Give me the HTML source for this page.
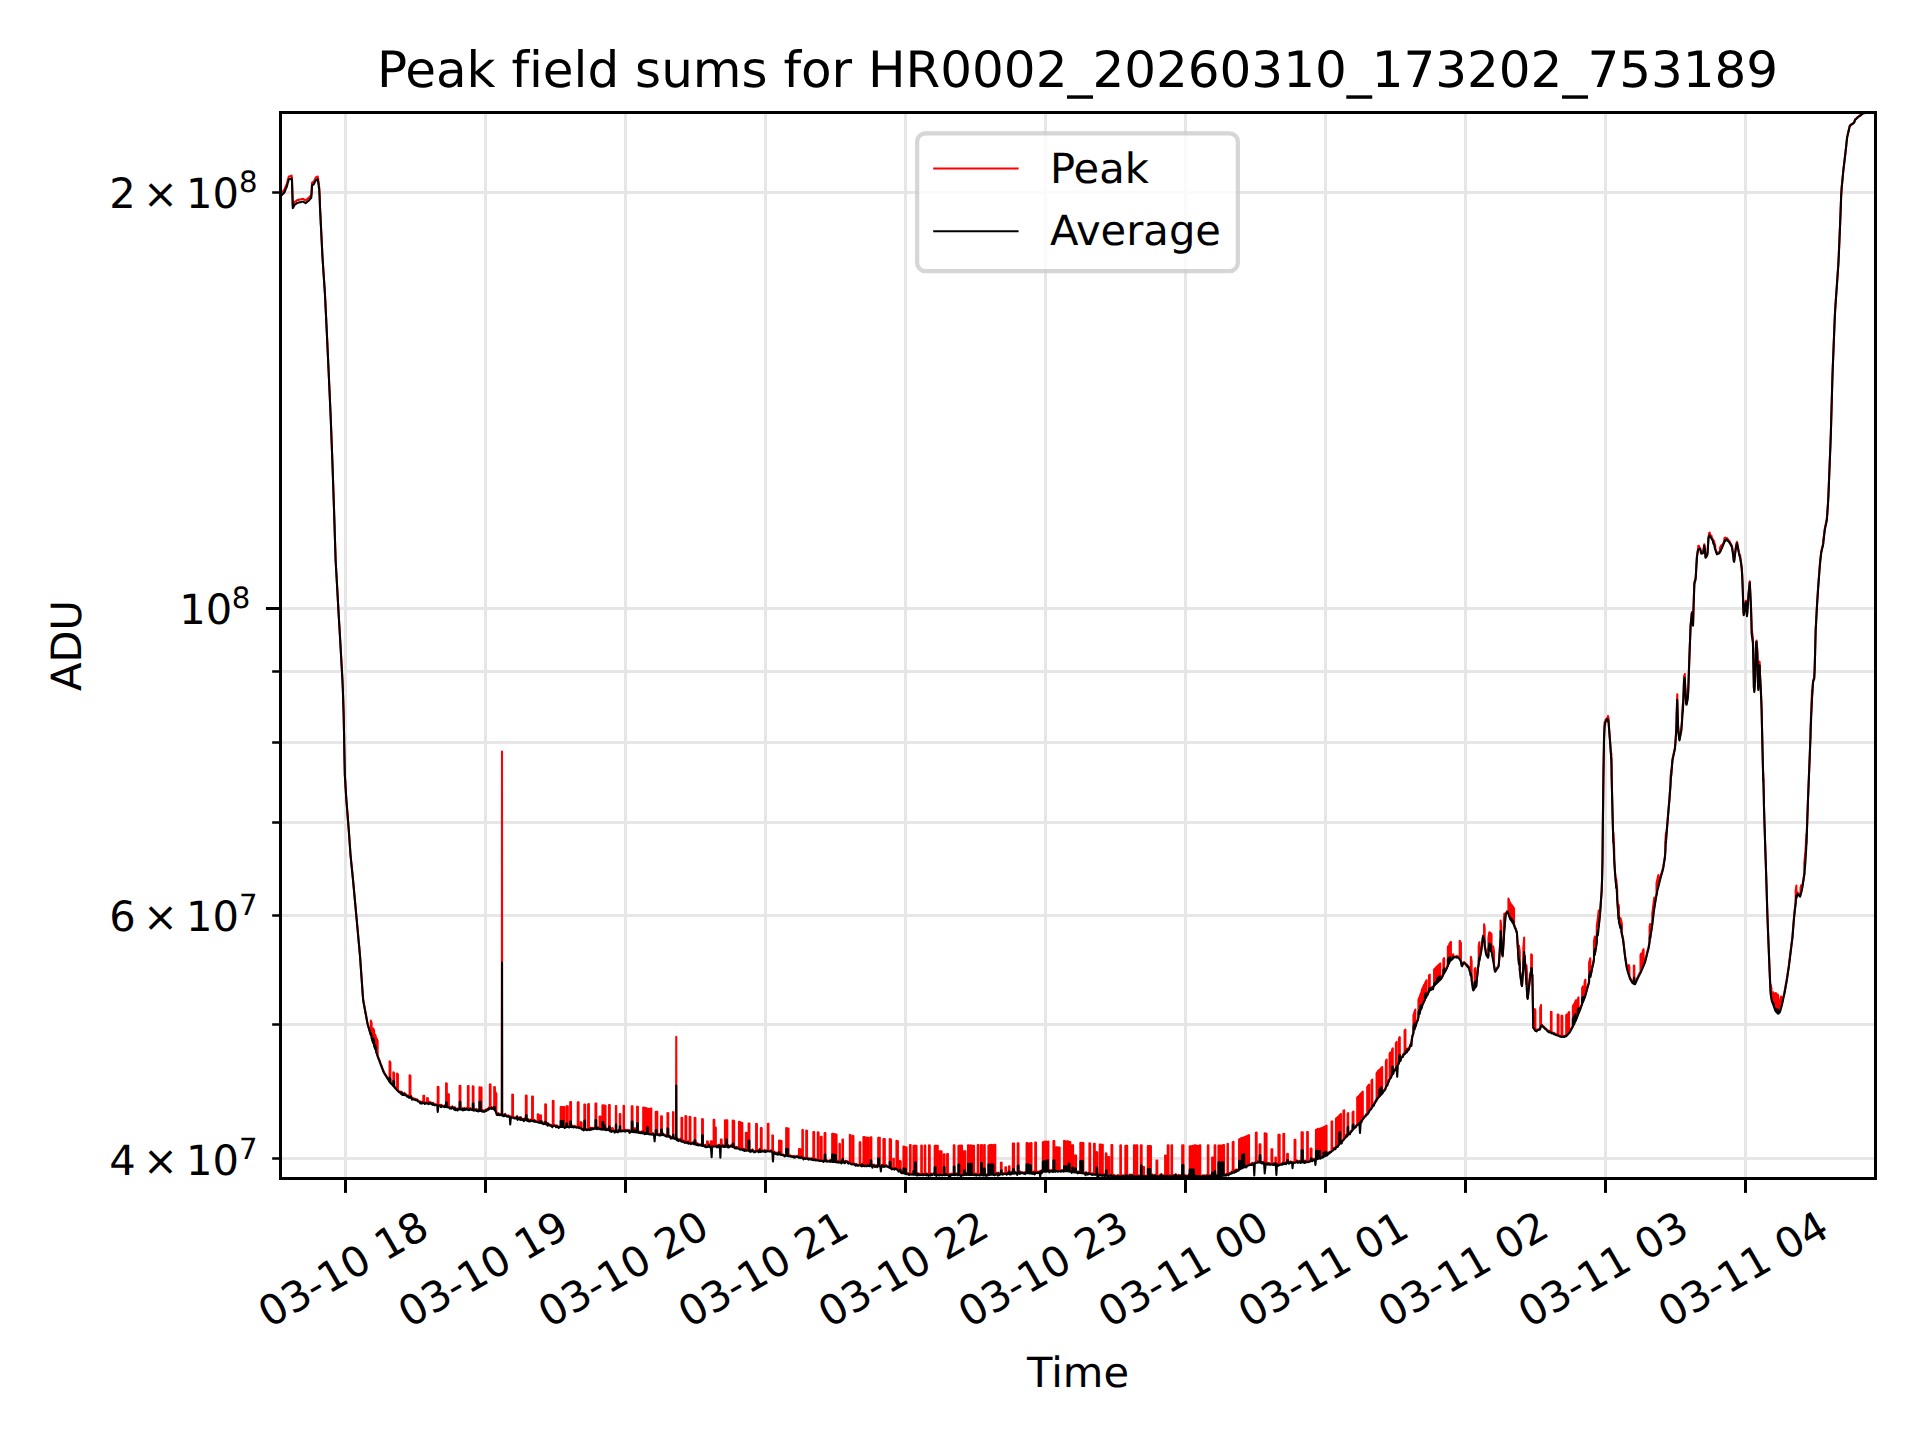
<!DOCTYPE html>
<html lang="en">
<head>
<meta charset="utf-8">
<title>Peak field sums for HR0002_20260310_173202_753189</title>
<style>
html,body{margin:0;padding:0;background:#ffffff;}
body{width:1920px;height:1440px;overflow:hidden;font-family:"DejaVu Sans","Liberation Sans",sans-serif;}
#chart{display:block;position:absolute;left:0;top:0;}
#chart text{white-space:pre;text-rendering:geometricPrecision;font-variant-ligatures:none;font-feature-settings:"liga" 0,"clig" 0;font-kerning:auto;}
</style>
</head>
<body>
<svg id="chart" width="1920" height="1440" viewBox="0 0 1920 1440" role="img" aria-label="Peak field sums chart">
<defs><clipPath id="axclip"><rect x="280.5" y="112.5" width="1595" height="1065.8"/></clipPath></defs>
<rect x="0" y="0" width="1920" height="1440" fill="#ffffff"/>
<g class="grid" clip-path="url(#axclip)" fill="none" stroke="#e6e6e6" stroke-width="3">
<path d="M345.5 1178.3 V112.5"/>
<path d="M485.5 1178.3 V112.5"/>
<path d="M625.5 1178.3 V112.5"/>
<path d="M765.5 1178.3 V112.5"/>
<path d="M905.5 1178.3 V112.5"/>
<path d="M1045.5 1178.3 V112.5"/>
<path d="M1185.5 1178.3 V112.5"/>
<path d="M1325.5 1178.3 V112.5"/>
<path d="M1465.5 1178.3 V112.5"/>
<path d="M1605.5 1178.3 V112.5"/>
<path d="M1745.5 1178.3 V112.5"/>
<path d="M280.5 1158.5 H1875.5"/>
<path d="M280.5 1024.5 H1875.5"/>
<path d="M280.5 915.5 H1875.5"/>
<path d="M280.5 822.5 H1875.5"/>
<path d="M280.5 742.5 H1875.5"/>
<path d="M280.5 671.5 H1875.5"/>
<path d="M280.5 608.5 H1875.5"/>
<path d="M280.5 192.5 H1875.5"/>
</g>
<g class="ticks" fill="none" stroke="#000000">
<g stroke-width="3">
<path d="M345.5 1178.3 v14.58"/>
<path d="M485.5 1178.3 v14.58"/>
<path d="M625.5 1178.3 v14.58"/>
<path d="M765.5 1178.3 v14.58"/>
<path d="M905.5 1178.3 v14.58"/>
<path d="M1045.5 1178.3 v14.58"/>
<path d="M1185.5 1178.3 v14.58"/>
<path d="M1325.5 1178.3 v14.58"/>
<path d="M1465.5 1178.3 v14.58"/>
<path d="M1605.5 1178.3 v14.58"/>
<path d="M1745.5 1178.3 v14.58"/>
<path d="M280.5 608.5 h-14.58"/>
</g>
<g stroke-width="2.5">
<path d="M280.5 1158.5 h-8.33"/>
<path d="M280.5 1024.5 h-8.33"/>
<path d="M280.5 915.5 h-8.33"/>
<path d="M280.5 822.5 h-8.33"/>
<path d="M280.5 742.5 h-8.33"/>
<path d="M280.5 671.5 h-8.33"/>
<path d="M280.5 192.5 h-8.33"/>
</g></g>
<g class="series" clip-path="url(#axclip)" fill="none" stroke-width="2.08" stroke-linejoin="round" stroke-linecap="square">
<path id="peak" stroke="#ff0000" d="M280.4 193.6L280.8 193.23L281.2 192.8L281.6 192.49L282 192L282.4 191.64L282.8 191.3L283.2 190.88L283.6 190.57L284 190.02L284.4 189.85L284.8 188.68L285.2 187.74L285.6 186.65L286 185.82L286.4 184.88L286.8 183.87L287.2 182.48L287.6 180.8L288 179.36L288.4 177.9L288.8 176.55L289.2 176.59L289.61 176.39L290.01 176.24L290.41 176.16L290.81 175.92L291.21 175.79L291.61 175.67L292.01 179.2L292.41 192.39L292.81 205.38L293.21 204.75L293.61 203.88L294.01 203.27L294.41 202.65L294.81 201.86L295.21 201.47L295.61 201.34L296.01 201.09L296.41 200.83L296.81 200.49L297.21 200.21L297.61 200.11L298.01 199.91L298.41 199.88L298.81 199.87L299.21 199.65L299.61 199.54L300.01 199.51L300.41 199.47L300.81 199.37L301.21 199.26L301.61 199.21L302.01 198.95L302.41 198.92L302.81 198.92L303.21 198.84L303.61 199.05L304.01 199.3L304.41 199.56L304.81 199.86L305.21 200.03L305.61 200.35L306.01 200.15L306.41 199.69L306.81 199.48L307.21 199.09L307.62 198.66L308.02 198.41L308.42 198.03L308.82 197.83L309.22 197.23L309.62 196.97L310.02 196.46L310.42 195.8L310.82 195.58L311.22 195.19L311.62 191.19L312.02 182.85L312.42 182.37L312.82 182.27L313.22 181.86L313.62 181.77L314.02 180.95L314.42 180.07L314.82 179.49L315.22 178.82L315.62 177.77L316.02 177.26L316.42 177.01L316.82 176.78L317.22 176.67L317.62 176.56L318.02 177.92L318.42 181.11L318.82 184.13L319.22 187.03L319.62 194.63L320.02 207.31L320.42 215.09L320.82 223.31L321.22 231.18L321.62 239.16L322.02 247.3L322.42 255.2L322.82 261.6L323.22 267.7L323.62 273.68L324.02 279.65L324.42 285.47L324.82 291.46L325.22 298.99L325.62 307.17L326.03 315.59L326.43 323.83L326.83 332.24L327.23 340.49L327.63 349.3L328.03 357.84L328.43 366.67L328.83 375.42L329.23 384.28L329.63 392.83L330.03 401.69L330.43 410.43L330.83 420.26L331.23 430.79L331.63 441.24L332.03 451.83L332.43 462.32L332.83 473.93L333.23 485.66L333.63 497.39L334.03 509.21L334.43 521.64L334.83 534.65L335.23 547.3L335.63 559.79L336.03 567L336.43 573.83L336.83 580.97L337.23 588.13L337.63 595.33L338.03 602.65L338.43 609.6L338.83 616.72L339.23 623.42L339.63 630.05L340.03 636.88L340.43 643.96L340.83 650.9L341.23 657.93L341.63 665.27L342.03 672.21L342.43 679.57L342.83 688.5L343.23 700.71L343.63 713.07L344.04 733.24L344.44 756.03L344.84 774.47L345.24 780.97L345.64 787.8L346.04 794.42L346.44 800.27L346.84 805.23L347.24 810.33L347.64 815.16L348.04 820.29L348.44 825.28L348.84 830.53L349.24 836.09L349.64 842.05L350.04 847.6L350.44 853.25L350.84 857.72L351.24 861.74L351.64 865.6L352.04 869.54L352.44 873.62L352.84 877.57L353.24 881.71L353.64 886.18L354.04 890.41L354.44 894.71L354.84 899.04L355.24 903.33L355.64 907.72L356.04 912.04L356.44 916.29L356.84 920.7L357.24 925.26L357.64 929.48L358.04 933.81L358.44 938.36L358.84 942.58L359.24 946.86L359.64 951.38L360.04 955.77L360.44 961.49L360.84 967.23L361.24 972.88L361.64 978.51L362.05 984.2L362.45 989.88L362.85 995.7L363.25 999.95L363.65 1002.12L364.05 1004.49L364.45 1006.44L364.85 1008.77L365.25 1010.91L365.65 1012.96L366.05 1015.02L366.45 1017.33L366.85 1019.5L367.25 1021.69L367.65 1023.49L368.05 1024.96L368.45 1026.35L368.85 1027.54L369.25 1029.12L369.65 1030.4L370.05 1031.72L370.45 1033.12L370.85 1034.53L370.85 1020.52L371.65 1023.21L371.65 1037.29L372.07 1038.61L372.5 1040.23L372.93 1041.48L373.35 1042.77L373.35 1028.56L374.15 1030.9L374.15 1045.17L374.69 1046.67L375.23 1048.4L375.23 1034.9L376.02 1037.24L376.02 1050.8L376.44 1052L376.85 1053.27L376.85 1038.8L377.65 1041.09L377.65 1055.62L378.06 1056.65L378.47 1057.85L378.89 1058.91L379.3 1059.91L379.71 1060.98L380.12 1062.11L380.53 1063.31L380.95 1064.33L381.36 1065.43L381.77 1066.47L382.18 1067.56L382.59 1068.69L383.01 1069.61L383.42 1070.98L383.83 1071.79L384.24 1072.46L384.66 1073.28L385.07 1073.85L385.48 1074.49L385.89 1075.1L386.3 1075.68L386.72 1076.48L387.13 1077.22L387.54 1077.71L387.95 1078.55L388.36 1079.01L388.78 1079.7L389.19 1080.46L389.6 1081.08L389.6 1061.41L390.4 1062.45L390.4 1082.15L390.82 1082.55L391.24 1082.99L391.66 1083.38L392.09 1083.89L392.51 1084.36L392.93 1084.79L393.35 1085.36L393.35 1072.33L394.15 1073.18L394.15 1086.23L394.57 1086.52L394.99 1087.34L395.41 1087.53L395.84 1087.96L396.26 1088.61L396.68 1089.06L397.1 1089.43L397.1 1073.57L397.9 1074.41L397.9 1090.3L398.3 1090.62L398.71 1091.09L399.11 1091.49L399.51 1091.58L399.92 1091.74L400.32 1091.99L400.72 1092.87L401.13 1091.64L401.53 1092.4L401.93 1092.05L402.34 1094.21L402.74 1094.22L403.14 1093.94L403.55 1093.55L403.95 1094.18L404.36 1092.87L404.76 1094.38L405.16 1093.69L405.57 1093.9L405.97 1094.44L406.37 1094.84L406.78 1095.55L407.18 1095.82L407.58 1095.78L407.99 1095.32L408.39 1096.41L408.79 1096.17L409.2 1097.07L409.6 1096.59L409.6 1075.25L410.4 1075.59L410.4 1096.95L410.92 1095.65L411.44 1097.14L411.95 1098.81L412.47 1098.12L412.99 1097.98L413.51 1098.8L414.03 1098.82L414.54 1099.02L415.06 1098.72L415.58 1099.27L416.1 1099.56L416.62 1099.33L417.13 1099.29L417.65 1100.21L418.17 1100.9L418.69 1100.95L419.21 1101.09L419.72 1101.33L420.24 1102.7L420.76 1101.65L421.28 1102.3L421.8 1102.88L422.31 1101.91L422.83 1102.11L423.35 1102.04L423.35 1095.68L424.15 1095.8L424.15 1102.16L424.74 1103.18L425.33 1102.51L425.92 1102.63L426.51 1102.57L427.1 1102.61L427.1 1098.14L427.9 1098.26L427.9 1102.73L428.42 1103.42L428.93 1102.75L429.45 1102.02L429.97 1102.97L430.49 1102.17L431 1102.65L431.52 1103.29L432.04 1102.86L432.55 1104.03L433.07 1102.71L433.59 1103.74L434.11 1104L434.62 1104.61L435.14 1104.42L435.66 1104.15L436.17 1104.17L436.69 1104.2L437.21 1104.97L437.73 1104.45L437.73 1086.77L438.52 1086.93L438.52 1104.61L439.03 1105.01L439.53 1104.78L440.04 1105.07L440.54 1104.89L441.05 1106.32L441.55 1104.89L442.05 1105.49L442.56 1105.61L443.06 1105.9L443.57 1105.92L444.07 1106.01L444.57 1106.42L445.08 1105.16L445.58 1106.09L446.09 1106.19L446.09 1083.34L446.79 1083.47L446.79 1106.32L447.47 1105.81L448.15 1106.59L448.15 1094.25L448.85 1094.38L448.85 1106.72L449.36 1106.79L449.87 1107.69L450.39 1107.34L450.9 1107.28L451.41 1107.99L451.92 1106.8L452.43 1106.26L452.95 1107.28L453.46 1107.46L453.97 1108.39L454.48 1108.98L454.99 1107.17L455.5 1109.37L456.02 1108.96L456.53 1108.66L457.04 1108.5L457.55 1109.73L458.06 1108.54L458.58 1108.33L459.09 1108.72L459.6 1108.66L459.6 1085.72L460.4 1085.75L460.4 1108.7L460.9 1108.67L461.4 1108.94L461.9 1108.98L462.4 1108.22L462.9 1109.55L463.4 1108.29L463.9 1109.36L464.4 1108.02L464.9 1109.13L465.4 1108.5L465.9 1108.99L466.4 1108.64L466.9 1107.82L467.4 1108.43L467.9 1109.06L467.9 1086.1L468.6 1086.13L468.6 1109.09L469.12 1109.47L469.64 1108.34L470.17 1108.01L470.69 1108.72L471.21 1109.11L471.73 1108.93L472.25 1108.88L472.77 1109.37L472.77 1086.4L473.48 1086.47L473.48 1109.44L474.02 1109.91L474.56 1109.04L475.1 1109.66L475.65 1109.56L476.19 1108.94L476.73 1110.26L477.28 1109.88L477.82 1109.62L478.36 1110.72L478.91 1110.41L479.45 1110.04L479.45 1087.4L480.61 1087.51L481.55 1087.6L481.55 1110.25L482.07 1110.86L482.59 1109.94L483.1 1110.43L483.62 1110.68L484.14 1111.12L484.66 1110.84L485.18 1110.42L485.69 1109.63L486.21 1110.03L486.73 1109.62L487.25 1108.97L487.77 1109.46L488.28 1108.64L488.8 1107.61L489.32 1108.38L489.84 1107.33L489.84 1084.37L490.54 1084.47L490.54 1107.44L491.06 1107.98L491.59 1107.02L492.11 1108.06L492.64 1107.76L493.16 1107.96L493.69 1107.65L494.21 1108.91L494.21 1087.03L494.91 1087.3L494.91 1109.19L495.65 1110.73L495.65 1092.31L496.35 1093.88L496.35 1112.35L496.85 1114.12L497.35 1113.65L497.85 1114.11L498.35 1113.18L498.85 1114.15L499.35 1113.91L499.85 1114.52L500.35 1114.45L500.85 1113.7L501.35 1113.55L501.85 1114.66L502 751.5L502.15 1114.73L502.66 1114.28L503.16 1115.35L503.67 1115.29L504.17 1115.38L504.68 1114.16L505.19 1113.89L505.69 1115.14L506.2 1115.4L506.71 1115.36L507.21 1115.99L507.72 1115.81L508.22 1115.36L508.73 1115.64L509.24 1116.3L509.74 1116.36L510.25 1116.38L510.76 1117.77L511.26 1116.48L511.77 1116.79L512.27 1116.83L512.27 1094.54L512.98 1094.68L512.98 1116.97L513.49 1116.87L514 1117.46L514.52 1117.59L515.03 1117.29L515.55 1117.7L516.07 1117.61L516.58 1116.65L517.1 1115.99L517.61 1119.16L518.12 1118.45L518.64 1118.07L519.15 1117.25L519.67 1117.6L520.19 1119.15L520.7 1116.98L521.22 1118.43L521.73 1119.17L522.25 1118.85L522.76 1119.26L523.27 1118.85L523.79 1120.31L524.31 1118.51L524.82 1118.4L525.34 1119.38L525.85 1119.3L525.85 1095.64L526.65 1095.75L526.65 1119.42L527.19 1120.08L527.74 1119.29L528.28 1119.01L528.83 1120.51L529.38 1120.69L529.92 1120.75L530.47 1119.74L531.01 1119.43L531.56 1119.5L532.1 1120.23L532.1 1096.49L532.9 1096.6L532.9 1120.34L533.44 1120.74L533.97 1120.81L534.51 1119.87L535.04 1120.9L535.58 1120.94L536.12 1121.12L536.65 1121.19L537.19 1121.23L537.73 1121.47L537.73 1114.27L538.52 1114.47L538.52 1121.67L539.09 1121.89L539.66 1122.08L540.23 1122.1L540.23 1115.38L541.02 1115.58L541.02 1122.3L541.55 1122.37L542.08 1121.4L542.6 1122.97L543.12 1122.69L543.65 1123.47L544.17 1123.01L544.7 1123.18L545.23 1123.36L545.23 1104.28L546.02 1104.47L546.02 1123.56L546.55 1123.43L547.07 1122.8L547.6 1124.9L548.12 1123.13L548.65 1123.91L549.17 1124.56L549.69 1124.52L550.22 1124.73L550.74 1124.94L551.27 1125.32L551.79 1124.89L552.31 1126.43L552.84 1124.94L552.84 1100.87L553.54 1101.01L553.54 1125.08L554.05 1125.31L554.56 1125.08L555.07 1125.08L555.58 1125.65L556.1 1126.39L556.61 1125.3L557.12 1125.4L557.63 1126.29L558.14 1126.3L558.65 1127.18L559.17 1126.69L559.68 1126.25L560.19 1125.95L560.7 1126.14L560.7 1106.97L561.62 1106.98L561.62 1126.14L562.38 1126.15L562.38 1107.15L563.3 1107.15L564.05 1107.16L564.05 1126.16L564.62 1127.1L565.19 1126.55L565.76 1126.69L566.33 1126.18L566.33 1106.17L567.14 1106.18L567.8 1106.18L567.8 1126.19L568.41 1126.09L569.01 1126.73L569.62 1126.37L570.23 1126.21L570.23 1101.98L571.02 1101.99L571.02 1126.22L571.54 1125.88L572.06 1126.37L572.58 1125.65L573.1 1126.23L573.62 1126.74L574.14 1126.4L574.66 1125.91L575.18 1126.11L575.7 1126.54L576.22 1126.77L576.74 1126.99L577.26 1126.48L577.77 1126.59L577.77 1102.3L578.6 1102.34L578.6 1126.64L579.16 1127.46L579.73 1126.87L580.29 1127.23L580.85 1127.57L580.85 1121.97L581.65 1122.76L581.65 1128.37L582.19 1128.34L582.73 1129.02L583.27 1129.28L583.81 1129.66L584.35 1129.04L584.35 1104.6L585.15 1104.52L585.15 1128.96L585.74 1128.76L586.33 1129.03L586.92 1129.49L587.51 1129.11L588.1 1128.66L588.1 1104.21L588.9 1104.13L588.9 1128.58L589.41 1129.31L589.91 1129.22L590.42 1128.95L590.92 1127.62L591.43 1128.79L591.93 1128.61L592.44 1127.94L592.95 1128.5L593.45 1128.35L593.96 1127.82L594.46 1127.96L594.97 1127.83L595.48 1128.02L595.48 1103.55L596.27 1103.62L596.27 1128.1L596.83 1128.45L597.38 1127.15L597.94 1128.11L598.49 1127.39L599.05 1128.11L599.6 1128.43L599.6 1116.43L600.4 1116.51L600.4 1128.51L600.91 1128.16L601.42 1128.9L601.94 1128.68L602.45 1128.72L602.45 1105.19L603.3 1105.27L603.3 1128.8L604 1128.87L604 1105.56L604.85 1105.65L605.55 1105.71L605.55 1129.03L606.12 1129.48L606.69 1128.48L607.26 1129.15L607.83 1129.09L608.4 1128.37L608.98 1129.57L608.98 1104.95L609.77 1105.13L609.77 1129.77L610.36 1130.64L610.94 1129.56L611.52 1131.12L612.1 1130.32L612.1 1127.99L612.9 1128.18L612.9 1130.52L613.49 1130.32L614.07 1130.42L614.66 1131.77L615.25 1130.99L615.84 1130.68L615.84 1105.96L616.25 1105.95L616.25 1130.67L616.75 1131.16L617.25 1131.42L617.75 1131.59L618.25 1130.44L618.76 1129.93L619.26 1129.14L619.76 1130.6L619.76 1114.07L620.31 1114.06L620.31 1130.59L620.86 1130.79L621.4 1130.63L621.95 1130.36L622.49 1130.19L623.04 1130.38L623.58 1130.52L623.58 1105.76L624 1105.75L624 1130.52L624.51 1129.53L625.03 1130.9L625.54 1129.68L626.06 1130.39L626.57 1130.15L627.09 1130.35L627.6 1130.03L628.12 1130.02L628.63 1130.58L629.15 1130.16L629.66 1132.16L630.18 1130.63L630.69 1130.55L631.21 1130.66L631.73 1131.02L631.73 1106.18L632.52 1106.26L632.52 1131.1L633.04 1131.01L633.56 1131.37L634.08 1130.42L634.6 1131.31L634.6 1128.17L635.4 1128.25L635.4 1131.39L635.97 1131.42L636.53 1131.69L637.1 1131.56L637.1 1106.66L637.9 1106.74L637.9 1131.64L638.43 1131.3L638.96 1132.23L639.49 1131.58L640.02 1132.1L640.55 1132.38L641.08 1131.9L641.61 1131.44L642.14 1132.57L642.67 1131.7L643.2 1132.4L643.2 1107.47L643.94 1107.58L643.94 1132.51L644.54 1132.6L644.54 1108.02L645.27 1108.12L645.27 1132.71L645.88 1132.8L645.88 1108.11L646.61 1108.22L646.61 1132.92L647.21 1133.01L647.21 1108.6L647.95 1108.71L648.55 1108.79L648.55 1133.21L649.06 1133.43L649.57 1133.36L650.09 1133.73L650.6 1133.52L650.6 1108.45L651.3 1108.55L651.3 1133.62L651.85 1133.95L652.4 1133.63L652.95 1132.99L653.5 1134.11L654.05 1134.57L654.6 1134.93L655.15 1133.86L655.7 1133.92L655.7 1111.7L656.58 1111.76L657.3 1111.81L657.3 1134.03L657.84 1133.85L658.39 1134.29L658.93 1134.53L659.47 1133.75L660.01 1134.53L660.56 1133.79L661.1 1134.29L661.1 1116.27L661.9 1116.33L661.9 1134.34L662.41 1134.11L662.91 1133.24L663.42 1133.99L663.93 1134.7L664.43 1134.66L664.94 1134.64L665.45 1135.26L665.95 1135.57L666.46 1135.83L666.97 1135.09L667.48 1135.71L667.48 1112.99L668.27 1113.24L668.27 1135.97L668.8 1135.66L669.33 1135.49L669.86 1136.44L670.39 1136.19L670.92 1138.03L671.45 1136.96L671.97 1137.07L672.5 1137.15L673.03 1137.55L673.03 1112.16L673.44 1112.29L673.44 1137.69L673.97 1137.77L674.5 1137.61L675.04 1138.14L675.57 1138.36L676.1 1138.57L676.25 1036.9L676.4 1138.68L676.91 1139.48L677.41 1138.3L677.92 1139.27L678.43 1140.37L678.94 1139.41L679.45 1139.79L679.95 1139.6L680.46 1138.85L680.97 1140.44L681.48 1140.71L681.48 1117.71L682.27 1118.02L682.27 1141.03L682.8 1140.91L683.33 1140.26L683.86 1141.53L684.38 1141.53L684.91 1142.14L685.44 1141.71L685.44 1116.06L686.33 1116.23L686.33 1141.89L686.87 1141.84L687.42 1142.31L687.96 1141.21L688.51 1142.93L689.05 1142.52L689.6 1142.54L689.6 1116.82L690.4 1116.98L690.4 1142.7L690.92 1143.38L691.45 1142.74L691.98 1142.92L692.5 1142.63L693.02 1142.08L693.55 1143.25L694.08 1143.51L694.6 1143.54L694.6 1117.75L695.4 1117.9L695.4 1143.7L695.92 1143.85L696.43 1144.15L696.95 1143.58L697.46 1143.13L697.98 1144.63L698.49 1144.65L699.01 1144.35L699.52 1144.28L700.04 1144.47L700.55 1144.65L701.07 1144.54L701.58 1143.82L702.1 1145.04L702.1 1119.13L702.9 1119.28L702.9 1145.2L703.42 1145.11L703.95 1145.23L704.48 1145.65L705 1144.72L705.52 1146.38L706.05 1146.18L706.58 1146.35L707.1 1146.04L707.1 1141.37L707.9 1141.43L707.9 1146.1L708.49 1145.62L709.08 1144.31L709.67 1146.18L710.26 1146.69L710.85 1145.95L710.85 1141.27L711.65 1141.23L711.65 1145.9L712.15 1145.58L712.65 1145.8L713.15 1145.98L713.65 1145.8L713.65 1119.78L714.35 1119.75L714.35 1145.76L715.15 1145.72L715.15 1127.61L715.85 1127.58L715.85 1145.69L716.35 1145.31L716.85 1146.5L717.35 1145.25L717.85 1146.44L718.35 1145.56L718.85 1144.61L719.35 1146.72L719.85 1144.94L720.35 1145.83L720.85 1145.51L720.85 1139.47L721.65 1139.51L721.65 1145.56L722.2 1145.29L722.75 1144.94L723.3 1146.21L723.85 1145.71L724.4 1145.02L724.95 1145.73L724.95 1120.4L725.6 1120.43L725.6 1145.76L726.12 1145.79L726.12 1120.29L726.77 1120.32L727.3 1120.35L727.3 1145.85L727.84 1146.56L728.38 1145.02L728.92 1146.61L729.46 1146.14L730 1145.92L730.54 1145.42L731.08 1145.17L731.62 1145.46L732.16 1146.09L732.7 1146.18L732.7 1120.56L733.51 1120.79L734.17 1120.98L734.17 1146.62L734.71 1146.69L735.24 1147.66L735.77 1146.91L736.3 1147.57L736.83 1146.82L737.36 1147.74L737.89 1147.78L738.42 1147.97L738.95 1148.03L738.95 1121.76L739.87 1122.02L739.87 1148.3L740.62 1148.53L740.62 1122.43L741.55 1122.69L742.3 1122.91L742.3 1149.02L742.81 1149.42L743.31 1149.06L743.82 1148.66L744.33 1150.18L744.84 1150.02L745.34 1149.16L745.85 1149.86L745.85 1132.83L746.65 1132.87L746.65 1149.91L747.3 1149.65L747.95 1149.32L748.6 1150.01L748.6 1123.56L749.4 1123.6L749.4 1150.05L749.92 1150.88L750.43 1149.91L750.95 1150.89L751.46 1150.8L751.98 1149.94L752.49 1149.29L753.01 1150.71L753.52 1150.6L754.04 1151.59L754.55 1151.1L755.07 1150.78L755.58 1151.3L756.1 1150.4L756.1 1123.88L756.9 1123.92L756.9 1150.44L757.46 1150.58L758.03 1150.32L758.59 1151.43L759.16 1150.78L759.72 1148.79L760.29 1151.23L760.85 1150.47L760.85 1127.94L761.65 1127.94L761.65 1150.47L762.16 1150.9L762.67 1150.21L763.18 1150.61L763.69 1150.83L764.2 1150.58L764.71 1149.95L765.22 1151.25L765.73 1150.7L766.24 1150.47L766.75 1150.87L767.26 1150.18L767.77 1150.47L767.77 1123.87L768.48 1123.87L768.48 1150.47L769.03 1150.6L769.58 1150.68L770.14 1150.73L770.69 1150.26L771.25 1150.33L771.8 1151.32L772.36 1151.41L772.36 1135.37L772.98 1135.61L772.98 1151.66L773.49 1152.62L774 1152.33L774.5 1151.68L775.01 1152.78L775.52 1153.14L776.03 1153.44L776.54 1153.22L777.04 1152.47L777.55 1153.88L778.06 1152.94L778.57 1153.76L779.08 1153.54L779.08 1140.49L779.76 1140.62L779.76 1153.67L780.31 1153.78L780.31 1140.76L780.99 1140.89L781.55 1141L781.55 1154.03L782.07 1154.33L782.58 1154.33L783.1 1154.52L783.62 1154.77L784.13 1154.91L784.65 1155.59L785.17 1154.73L785.68 1154.98L786.2 1154.96L786.2 1128.14L786.85 1128.27L786.85 1155.09L787.38 1155.2L787.38 1128.42L788.02 1128.54L788.55 1128.64L788.55 1155.43L789.07 1155.24L789.59 1155.28L790.11 1155.68L790.63 1155.36L791.16 1155.95L791.68 1155.93L792.2 1156.01L792.72 1156.29L793.24 1155.94L793.76 1156.05L794.28 1156.99L794.8 1156.05L795.33 1156.57L795.85 1156.21L796.37 1155.98L796.89 1156.03L797.41 1155.89L797.93 1156.39L798.45 1156.11L798.98 1156.49L798.98 1149.02L799.76 1149.09L800.4 1149.16L800.4 1156.64L801.06 1157.17L801.72 1156.49L802.38 1156.97L802.38 1129.84L802.86 1129.95L802.86 1157.08L803.42 1158.65L803.98 1157.78L804.54 1158L805.1 1157.7L805.66 1158.17L806.23 1157.83L806.23 1130.63L807.02 1130.8L807.02 1158L807.55 1157.65L808.08 1158.47L808.61 1158.8L809.13 1158.24L809.66 1158.48L810.19 1158.5L810.71 1158.72L811.24 1158.28L811.77 1158.26L812.3 1159.12L812.82 1158.29L813.35 1159.31L813.35 1132L814.15 1132.07L814.15 1159.39L814.66 1159.07L815.18 1158.9L815.69 1159.66L816.21 1159.34L816.72 1159.59L817.24 1159.13L817.75 1159.75L817.75 1132.39L818.59 1132.46L818.59 1159.83L819.15 1160.16L819.72 1160.13L820.28 1159.73L820.85 1160.06L820.85 1136.8L821.65 1136.88L821.65 1160.14L822.24 1160.28L822.83 1160.33L823.42 1161.18L824.01 1160.14L824.6 1160.43L824.6 1132.99L825.4 1133.06L825.4 1160.5L825.92 1160.4L826.45 1159.93L826.97 1160.99L827.49 1160.8L828.02 1160.72L828.54 1160.75L829.06 1160.79L829.58 1160.33L830.11 1161.02L830.63 1159.91L831.15 1160.93L831.68 1160.16L832.2 1161.05L832.2 1133.68L833 1133.74L833 1161.11L833.65 1161.16L833.65 1134.02L834.45 1134.08L834.45 1161.23L835.1 1161.28L835.1 1134.39L835.9 1134.45L836.55 1134.5L836.55 1161.39L837.13 1161.78L837.72 1161.71L838.3 1160.81L838.88 1161.82L839.47 1161.52L839.47 1143.91L839.89 1143.92L839.89 1161.53L840.4 1161.78L840.91 1160.91L841.43 1162.61L841.94 1160.62L842.45 1161.59L842.45 1139.42L843.01 1139.43L843.01 1161.61L843.54 1160.61L844.06 1161.47L844.59 1162.41L845.11 1162.25L845.63 1160.73L846.16 1161.37L846.68 1161.02L847.21 1161.12L847.73 1161.42L848.25 1162.98L848.78 1162.24L849.3 1162.25L849.83 1162.6L849.83 1134.89L850.67 1135.2L850.67 1162.93L851.22 1163.46L851.76 1163.68L852.3 1163L852.85 1163.66L852.85 1135.88L853.4 1135.94L853.4 1163.73L853.93 1163.16L854.45 1163.67L854.98 1164.13L855.5 1164.89L856.03 1163.82L856.55 1164.23L857.08 1164.85L857.6 1164.54L858.13 1164.88L858.65 1164.89L859.18 1164.53L859.7 1164.48L859.7 1142.23L860.3 1142.3L860.3 1164.56L860.82 1165.09L861.35 1164.63L861.88 1165.59L862.4 1163.68L862.93 1164.3L863.45 1164.87L863.45 1137.02L864.38 1137.07L864.38 1164.92L865.15 1164.96L865.15 1137.47L866.08 1137.52L866.08 1165.01L866.85 1165.05L866.85 1137.71L867.78 1137.76L868.55 1137.8L868.55 1165.13L869.08 1164.26L869.61 1165.47L870.14 1165.18L870.67 1165.25L870.67 1137.26L871.35 1137.29L871.35 1165.28L871.88 1164.74L872.4 1166.9L872.93 1164.79L873.46 1165.12L873.98 1164.6L874.51 1165.18L875.04 1166.27L875.57 1165.45L876.09 1165.76L876.62 1165.17L877.15 1166.43L877.67 1165.53L878.2 1165.47L878.2 1137.79L879.08 1137.79L879.8 1137.79L879.8 1165.47L880.32 1165.51L880.84 1165.58L881.36 1165.51L881.89 1164.94L882.41 1164.61L882.93 1165.97L883.45 1165.47L883.45 1139.08L884.19 1139.08L884.8 1139.08L884.8 1165.47L885.34 1165.12L885.89 1165.54L886.43 1165.13L886.98 1165.84L887.52 1166.11L888.07 1166.39L888.61 1166.66L889.16 1166.54L889.7 1167.12L889.7 1139.12L890.44 1139.33L891.05 1139.48L891.05 1167.5L891.62 1168.57L892.19 1167.88L892.76 1168.01L893.33 1168.11L893.33 1158.69L893.81 1158.81L893.81 1168.24L894.34 1168.9L894.86 1167.92L895.39 1167.73L895.92 1168.22L896.45 1168.94L896.45 1140.77L897.26 1140.98L897.92 1141.28L897.92 1169.48L898.58 1170.81L899.24 1169.75L899.9 1170.66L899.9 1160.84L900.71 1161.31L900.71 1171.14L901.25 1172.15L901.8 1172.32L902.35 1171.91L902.9 1172.4L903.45 1172.49L903.45 1146.53L904.3 1146.76L904.3 1172.72L905 1172.92L905 1147L905.85 1147.23L906.55 1147.41L906.55 1173.35L907.12 1172.96L907.69 1173.17L908.26 1173.85L908.82 1173.16L909.39 1174.17L909.96 1173.75L909.96 1145.09L910.66 1145.12L910.66 1173.79L911.22 1173.82L911.78 1173.76L912.34 1173.66L912.89 1173.94L913.45 1173.94L913.45 1145.7L914.3 1145.74L914.3 1173.98L915 1174.02L915 1145.71L915.85 1145.76L916.55 1145.79L916.55 1174.1L917.07 1174.77L917.59 1173.01L918.12 1174.28L918.64 1174.42L919.16 1173.65L919.68 1174.47L920.2 1174.37L920.73 1173.99L921.25 1174.22L921.25 1145.45L921.84 1145.45L921.84 1174.22L922.41 1173.46L922.99 1174.53L923.56 1174.05L924.13 1173.6L924.7 1174.22L924.7 1145.43L925.3 1145.43L925.3 1174.22L925.82 1173.99L926.35 1174.63L926.88 1173.36L927.4 1174.07L927.92 1173.93L928.45 1175.05L928.98 1174.22L928.98 1145.4L929.77 1145.4L929.77 1174.22L930.32 1174.76L930.87 1173.21L931.42 1174.37L931.96 1174.1L932.51 1174.39L933.06 1173.79L933.61 1173.11L934.15 1173.33L934.7 1174.22L934.7 1145.89L935.55 1145.89L935.55 1174.22L936.25 1174.22L936.25 1145.68L937.1 1145.68L937.8 1145.68L937.8 1174.22L938.43 1174.33L939.07 1174.71L939.7 1174.22L939.7 1151.33L940.72 1151.33L941.55 1151.33L941.55 1174.22L942.11 1174.28L942.66 1174.57L943.22 1173.85L943.78 1174.22L943.78 1154.26L944.54 1154.26L944.54 1174.22L945.05 1174.5L945.57 1174.26L946.08 1173.96L946.59 1173.39L947.1 1174.22L947.1 1154.04L947.9 1154.04L947.9 1174.22L948.43 1174.78L948.97 1174.65L949.5 1173.8L950.04 1173.98L950.57 1175.09L951.1 1174.58L951.64 1173.7L952.17 1174.19L952.71 1174.25L953.24 1174.06L953.77 1174.22L953.77 1145.22L954.48 1145.22L954.48 1174.22L955.04 1174.49L955.61 1174.06L956.18 1173.31L956.75 1173.85L957.31 1174.17L957.88 1174.65L958.45 1174.22L958.45 1145.7L959.2 1145.7L959.2 1174.22L959.82 1174.22L959.82 1145.73L960.57 1145.73L960.57 1174.22L961.19 1174.22L961.19 1145.45L961.94 1145.45L961.94 1174.22L962.56 1174.22L962.56 1151.6L963.31 1151.6L963.31 1174.22L963.93 1174.22L963.93 1151.37L964.68 1151.37L965.3 1151.37L965.3 1174.22L965.83 1172.8L966.36 1173.94L966.89 1174.16L967.42 1173.5L967.95 1174.22L967.95 1145.21L968.79 1145.21L968.79 1174.22L969.48 1174.22L969.48 1145.66L970.31 1145.66L970.31 1174.22L971 1174.22L971 1145.44L971.84 1145.44L971.84 1174.22L972.52 1174.22L972.52 1145.74L973.36 1145.74L974.05 1145.74L974.05 1174.22L974.57 1174.35L975.1 1174.42L975.62 1173.49L976.15 1174.21L976.67 1174.79L977.2 1174.1L977.73 1174.22L977.73 1145.05L978.52 1145.05L978.52 1174.22L979.15 1174.55L979.77 1174.07L980.39 1174.74L981.01 1174.22L981.01 1145.03L981.9 1145.03L981.9 1174.22L982.44 1174.48L982.99 1174.67L983.53 1174.64L984.08 1174.22L984.08 1145.01L984.75 1145.01L984.75 1174.22L985.28 1174.95L985.81 1174.33L986.34 1174.85L986.87 1174.92L987.39 1174.18L987.92 1174.54L988.45 1174.16L988.45 1145.61L989.2 1145.57L989.2 1174.12L989.82 1174.08L989.82 1145.15L990.57 1145.11L990.57 1174.04L991.19 1174L991.19 1144.95L991.94 1144.91L991.94 1173.95L992.56 1173.92L992.56 1145.31L993.31 1145.27L993.31 1173.87L993.93 1173.83L993.93 1144.92L994.68 1144.88L995.3 1144.84L995.3 1173.75L995.81 1173.92L996.32 1172.72L996.83 1173.71L997.34 1173.65L997.85 1174.77L998.36 1172.57L998.87 1174.41L999.38 1173.45L999.89 1174.03L1000.4 1173.33L1000.91 1173.47L1000.91 1162.69L1001.63 1162.66L1001.63 1173.44L1002.16 1173.47L1002.7 1173.98L1003.23 1173.33L1003.76 1173.13L1004.3 1173.21L1004.83 1173.03L1005.36 1173.28L1005.36 1167.35L1006.09 1167.32L1006.09 1173.25L1006.68 1173.98L1007.27 1172.56L1007.86 1172.26L1008.45 1173.14L1009.04 1173.12L1009.04 1166.32L1009.51 1166.3L1009.51 1173.1L1010.07 1173.81L1010.62 1173.75L1011.17 1172.64L1011.72 1173.08L1012.27 1171.53L1012.83 1172.95L1012.83 1143.6L1014.05 1143.53L1014.05 1172.88L1014.57 1172L1015.1 1171.69L1015.62 1172.08L1016.15 1172.88L1016.67 1173.37L1017.2 1174.13L1017.73 1172.66L1017.73 1143.28L1018.52 1143.24L1018.52 1172.61L1019.03 1171.32L1019.53 1172.65L1020.03 1173.12L1020.54 1171.62L1021.04 1172.19L1021.54 1172.2L1022.05 1172.44L1022.55 1172.29L1023.05 1172.65L1023.56 1172.92L1024.06 1172.34L1024.56 1172.69L1025.07 1173.35L1025.57 1171.75L1026.07 1171.78L1026.58 1172.38L1026.58 1142.98L1027.49 1143.07L1027.49 1172.47L1028.23 1172.54L1028.23 1143.83L1029.15 1143.91L1029.15 1172.63L1029.89 1172.71L1029.89 1143.32L1030.8 1143.23L1031.55 1143.14L1031.55 1172.52L1032.08 1173.09L1032.6 1172.1L1033.12 1172.85L1033.65 1171.37L1034.17 1172.78L1034.7 1173.68L1035.22 1172.05L1035.22 1142.58L1036.03 1142.48L1036.03 1171.95L1036.55 1172.21L1037.07 1171.9L1037.59 1172.26L1038.12 1171.49L1038.64 1172.04L1039.16 1171.46L1039.69 1171.31L1040.21 1171.54L1040.73 1171.38L1041.26 1170.39L1041.78 1172.42L1042.3 1171.29L1042.83 1171.1L1042.83 1142.21L1043.6 1142.16L1043.6 1171.04L1044.22 1171L1044.22 1141.86L1044.99 1141.81L1044.99 1170.94L1045.62 1170.9L1045.62 1141.83L1046.39 1141.77L1046.39 1170.84L1047.03 1170.79L1047.03 1141.76L1047.8 1141.7L1048.43 1141.66L1048.43 1170.69L1048.93 1170.18L1049.43 1171.56L1049.93 1170.15L1050.43 1170.64L1050.94 1170.4L1051.44 1170.16L1051.94 1170.8L1052.44 1171.03L1052.95 1171.24L1053.45 1170.33L1053.45 1141.13L1054.31 1141.07L1054.31 1170.27L1055.01 1170.22L1055.01 1147.41L1055.86 1147.43L1055.86 1170.24L1056.56 1170.25L1056.56 1147.34L1057.42 1147.36L1057.42 1170.27L1058.12 1170.28L1058.12 1147.44L1058.97 1147.46L1059.68 1147.47L1059.68 1170.31L1060.22 1170.64L1060.78 1170.93L1061.33 1170.19L1061.88 1170.57L1062.42 1170.21L1062.97 1170.08L1063.53 1170.8L1064.08 1170.4L1064.08 1140.91L1064.93 1140.93L1064.93 1170.42L1065.63 1170.43L1065.63 1141.4L1066.49 1141.42L1066.49 1170.45L1067.19 1170.46L1067.19 1141.23L1068.04 1141.31L1068.04 1170.55L1068.74 1170.64L1068.74 1141.89L1069.6 1142.01L1070.3 1142.1L1070.3 1170.86L1070.81 1171.11L1071.32 1170.55L1071.83 1172.07L1072.33 1171.15L1072.33 1145.16L1073.09 1145.26L1073.09 1171.25L1073.62 1170.73L1074.16 1171.66L1074.69 1171.23L1075.22 1171.55L1075.22 1155.36L1076.03 1155.47L1076.03 1171.66L1076.56 1171.88L1077.1 1171.38L1077.64 1172.6L1078.18 1171.43L1078.71 1171.44L1079.25 1172.3L1079.79 1172.28L1080.33 1172.26L1080.33 1142.88L1081.18 1142.97L1081.18 1172.35L1081.88 1172.43L1081.88 1142.89L1082.73 1142.98L1083.42 1143.05L1083.42 1172.6L1083.97 1172.55L1084.51 1173.14L1085.05 1172.81L1085.6 1174.37L1086.14 1172.15L1086.68 1172.57L1087.23 1173.09L1087.77 1173.85L1088.31 1173.02L1088.86 1172.43L1089.4 1173.27L1089.4 1143.36L1090.24 1143.45L1090.24 1173.37L1090.77 1172.93L1091.31 1173.39L1091.84 1174.04L1092.37 1173.25L1092.91 1173.42L1093.44 1173.99L1093.97 1173.76L1093.97 1143.79L1094.78 1143.87L1094.78 1173.84L1095.39 1174.06L1096.01 1173.44L1096.62 1174.02L1096.62 1152.11L1097.24 1152.17L1097.24 1174.08L1097.85 1173.28L1098.47 1175.16L1099.08 1174.51L1099.7 1174.31L1099.7 1144.57L1100.55 1144.64L1100.55 1174.39L1101.25 1174.46L1101.25 1144.67L1102.1 1144.75L1102.8 1144.81L1102.8 1174.61L1103.31 1174.88L1103.81 1174.21L1104.32 1174.46L1104.82 1175.48L1105.33 1174.69L1105.83 1174.86L1105.83 1153.41L1106.5 1153.45L1106.5 1174.9L1107.12 1174.32L1107.73 1175.8L1108.35 1174.99L1108.35 1157.07L1109.15 1157.11L1109.15 1175.04L1109.73 1175.19L1110.31 1175.05L1110.89 1174.24L1111.47 1175.16L1111.47 1145.07L1112.28 1145.11L1112.28 1175.2L1112.78 1175.51L1113.28 1175.28L1113.78 1174.82L1114.29 1175.55L1114.79 1175.94L1115.29 1175.48L1115.8 1176.33L1116.3 1175.88L1116.8 1175.86L1117.31 1176.23L1117.81 1175.11L1118.31 1175.19L1118.82 1175.76L1119.32 1175.76L1119.82 1176.3L1120.33 1175.47L1120.33 1145.37L1120.92 1145.37L1120.92 1175.47L1121.47 1175.57L1122.03 1175.59L1122.58 1175.32L1123.12 1175.27L1123.67 1175.23L1124.22 1175.97L1124.78 1175.22L1125.33 1175.47L1125.33 1145.9L1126.34 1145.9L1127.17 1145.9L1127.17 1175.47L1127.7 1175.69L1128.22 1175.31L1128.74 1175.59L1129.27 1175.69L1129.79 1174.47L1130.31 1176.81L1130.84 1175.58L1131.36 1175.6L1131.88 1174.52L1132.41 1175.85L1132.93 1175.74L1133.45 1175.32L1133.97 1175.47L1133.97 1145.37L1134.78 1145.37L1134.78 1175.47L1135.39 1176.23L1136 1175.35L1136.62 1175.47L1136.62 1145.37L1137.25 1145.37L1137.25 1175.47L1137.76 1176.27L1138.28 1175.69L1138.79 1175.45L1139.31 1176.81L1139.82 1175.64L1140.34 1175.46L1140.85 1175.47L1140.85 1145.37L1141.65 1145.37L1141.65 1175.47L1142.29 1175.67L1142.93 1175.63L1143.57 1175.47L1143.57 1166.92L1144.03 1166.92L1144.03 1175.47L1144.57 1175.41L1145.12 1175.72L1145.66 1175.76L1146.2 1175.87L1146.74 1175.98L1147.28 1175.68L1147.83 1175.47L1147.83 1146.15L1148.68 1146.15L1148.68 1175.47L1149.38 1175.47L1149.38 1146.07L1150.23 1146.07L1150.92 1146.07L1150.92 1175.47L1151.43 1174.52L1151.93 1176.36L1152.44 1174.56L1152.94 1175.73L1153.45 1176.42L1153.95 1176.34L1154.46 1175.02L1154.96 1174.8L1155.47 1174.72L1155.97 1175.9L1156.47 1175.47L1156.47 1160.61L1157.28 1160.61L1157.28 1175.47L1157.8 1175.51L1158.32 1175.65L1158.84 1175.73L1159.36 1175.8L1159.89 1175.57L1160.41 1174.62L1160.93 1176.3L1161.45 1173.99L1161.98 1176.18L1162.5 1175.16L1163.02 1175.39L1163.54 1175.21L1164.07 1175.29L1164.59 1175.48L1165.11 1175.47L1165.11 1155.53L1165.64 1155.53L1165.64 1175.47L1166.16 1174.89L1166.68 1175.96L1167.2 1175.17L1167.72 1175.47L1167.72 1145.37L1168.53 1145.37L1168.53 1175.47L1169.12 1175.41L1169.71 1175.1L1170.3 1175.73L1170.9 1175.98L1171.49 1175.47L1171.49 1145.37L1172.09 1145.37L1172.09 1175.47L1172.6 1175.33L1173.1 1176.28L1173.61 1174.94L1174.11 1175.02L1174.62 1175.58L1175.13 1174.82L1175.63 1174.14L1176.14 1174.57L1176.64 1175.7L1177.15 1175.85L1177.65 1175.82L1178.16 1175.71L1178.66 1174.81L1179.17 1175.86L1179.67 1176.12L1180.18 1175.11L1180.68 1176.01L1181.19 1175.29L1181.69 1175.6L1182.2 1175.47L1182.2 1145.37L1183.42 1145.37L1183.42 1175.47L1183.95 1176.3L1184.47 1175.02L1184.99 1175.44L1185.52 1175.22L1186.04 1175.74L1186.56 1175.73L1187.09 1175.5L1187.61 1176.27L1188.13 1175.65L1188.65 1175.27L1189.18 1173.91L1189.7 1175.47L1189.7 1146.25L1190.59 1146.25L1190.59 1175.47L1191.32 1175.47L1191.32 1146.23L1192.21 1146.23L1192.21 1175.47L1192.94 1175.47L1192.94 1145.88L1193.83 1145.88L1193.83 1175.47L1194.56 1175.47L1194.56 1145.39L1195.45 1145.39L1195.45 1175.47L1196.18 1175.47L1196.18 1145.67L1197.07 1145.67L1197.8 1145.67L1197.8 1175.47L1198.43 1175.36L1199.07 1175.14L1199.7 1175.47L1199.7 1145.37L1200.29 1145.37L1200.29 1175.47L1200.79 1177.2L1201.29 1175.95L1201.79 1176.08L1202.3 1175.58L1202.8 1175.3L1203.3 1176.7L1203.8 1175.29L1204.31 1175.71L1204.81 1175.43L1205.31 1175.82L1205.81 1175.47L1206.32 1175.82L1206.82 1174.8L1207.32 1175.44L1207.83 1175.47L1207.83 1145.37L1208.42 1145.37L1208.42 1175.47L1208.95 1174.93L1209.47 1175.13L1210 1176.25L1210.52 1175.72L1211.05 1176.08L1211.57 1174.26L1212.1 1175.47L1212.1 1157.53L1212.9 1157.53L1212.9 1175.47L1213.49 1174.73L1214.07 1175.72L1214.66 1175.47L1214.66 1145.37L1215.26 1145.37L1215.26 1175.47L1215.79 1174.88L1216.32 1175.17L1216.85 1175.42L1217.39 1174.76L1217.92 1176.7L1218.45 1175.39L1218.45 1145.48L1219.22 1145.42L1219.22 1175.32L1219.85 1175.27L1219.85 1145.72L1220.62 1145.65L1220.62 1175.2L1221.25 1175.15L1221.25 1145.75L1222.02 1145.68L1222.02 1175.08L1222.65 1175.02L1222.65 1145.2L1223.42 1145.13L1224.05 1145.08L1224.05 1174.9L1224.63 1174.13L1225.2 1174.35L1225.78 1174.95L1226.35 1173.91L1226.93 1173.45L1227.5 1173.95L1227.5 1143.93L1227.92 1143.79L1227.92 1173.81L1228.46 1174.61L1228.99 1173.55L1229.52 1172.95L1230.06 1173.16L1230.59 1173.14L1231.12 1172.77L1231.66 1171.52L1232.19 1172.5L1232.72 1172.11L1232.72 1142.18L1233.53 1141.8L1233.53 1171.71L1234.03 1171.93L1234.53 1170.46L1235.04 1171.54L1235.54 1170.43L1236.05 1169.51L1236.55 1170.94L1237.06 1169.66L1237.56 1169.9L1238.07 1169.35L1238.57 1169.79L1239.08 1168.93L1239.08 1139.43L1239.86 1139.05L1239.86 1168.54L1240.5 1168.22L1240.5 1138.58L1241.28 1138.2L1241.28 1167.83L1241.92 1167.51L1241.92 1138.15L1242.71 1137.8L1242.71 1167.14L1243.35 1166.88L1243.35 1137.81L1244.13 1137.51L1244.13 1166.57L1244.78 1166.31L1244.78 1137.06L1245.56 1136.77L1245.56 1166L1246.2 1165.74L1246.2 1136.45L1246.98 1136.15L1246.98 1165.43L1247.62 1165.17L1247.62 1135.73L1248.41 1135.43L1249.05 1135.19L1249.05 1164.6L1249.57 1164.04L1250.1 1164.06L1250.62 1164.22L1251.14 1163.97L1251.67 1164.22L1252.19 1162.74L1252.71 1163.43L1253.23 1163.27L1253.76 1163.85L1254.28 1162.67L1254.8 1162.8L1255.33 1161.99L1255.85 1162.27L1255.85 1132.83L1256.65 1132.57L1256.65 1162L1257.24 1162.03L1257.83 1161.37L1258.42 1161.47L1259.01 1161.7L1259.6 1161.72L1259.6 1144.2L1260.4 1144.2L1260.4 1161.72L1260.94 1162.21L1261.48 1161.53L1262.01 1162.78L1262.55 1162.69L1263.09 1161.81L1263.62 1161.85L1264.16 1163.72L1264.7 1162.51L1264.7 1133.2L1265.72 1133.49L1266.55 1133.68L1266.55 1163.02L1267.1 1162.64L1267.64 1163.88L1268.19 1163.45L1268.74 1162.84L1269.29 1164.01L1269.83 1163.44L1270.38 1164.07L1270.93 1163.41L1271.47 1163.81L1271.47 1149.25L1272.28 1149.37L1272.28 1163.93L1272.79 1163.09L1273.31 1164.23L1273.83 1163.21L1274.35 1164.18L1274.87 1162.72L1275.39 1164.16L1275.39 1157.51L1275.86 1157.54L1275.86 1164.19L1276.38 1164.5L1276.9 1164.93L1277.42 1163.7L1277.93 1165.2L1278.45 1164.37L1278.45 1134.82L1279.67 1134.9L1279.67 1164.45L1280.2 1163.74L1280.72 1163.82L1281.25 1163.79L1281.77 1163.95L1282.3 1163.91L1282.82 1162.29L1283.35 1163.51L1283.35 1134.01L1284.15 1133.79L1284.15 1163.28L1284.74 1162.97L1285.33 1162.38L1285.92 1163.3L1286.51 1162.41L1287.1 1162.43L1287.1 1153.98L1287.9 1153.85L1287.9 1162.3L1288.42 1162.09L1288.93 1162.88L1289.45 1162.65L1289.96 1161.89L1290.48 1161.24L1290.99 1161.8L1291.51 1162.42L1292.02 1161.91L1292.54 1162.99L1293.05 1162.13L1293.57 1162.06L1294.08 1162.15L1294.6 1161.89L1294.6 1139.88L1295.4 1139.83L1295.4 1161.85L1295.91 1161.74L1296.43 1161.41L1296.94 1160.45L1297.46 1160.73L1297.97 1162.11L1298.49 1161.45L1299 1161.61L1299.52 1160.85L1300.03 1161.33L1300.55 1162.08L1301.06 1161.68L1301.58 1161.62L1301.58 1132.21L1302.8 1132.18L1302.8 1161.59L1303.34 1161.54L1303.89 1161.36L1304.43 1162.18L1304.97 1160.57L1305.52 1161.82L1306.06 1160.89L1306.61 1161.05L1307.15 1161.48L1307.15 1132.07L1307.85 1131.96L1307.85 1161.36L1308.41 1161.24L1308.96 1161.05L1309.52 1160.98L1310.07 1160.74L1310.63 1160.45L1310.63 1148.78L1311.51 1148.5L1311.51 1160.16L1312.07 1160.37L1312.62 1160.22L1313.18 1159.41L1313.73 1158.83L1314.29 1159.59L1314.84 1159.1L1315.4 1159.37L1315.95 1158.72L1315.95 1130.01L1316.78 1129.73L1316.78 1158.43L1317.46 1158.18L1317.46 1128.98L1318.3 1128.7L1318.3 1157.88L1318.98 1157.64L1318.98 1129.07L1319.81 1128.79L1319.81 1157.34L1320.49 1157.09L1320.49 1128.59L1321.33 1128.31L1321.33 1156.79L1322.01 1156.55L1322.01 1128.02L1322.84 1127.74L1322.84 1156.25L1323.52 1156L1323.52 1127.25L1324.35 1126.96L1324.35 1155.7L1325.04 1155.44L1325.04 1126.66L1325.87 1126.06L1326.55 1125.58L1326.55 1154.31L1327.05 1154.68L1327.56 1154.2L1328.06 1152.39L1328.56 1152.71L1329.06 1152.82L1329.57 1151.8L1330.07 1152.12L1330.57 1151.48L1331.07 1151.25L1331.58 1150.54L1331.58 1121.67L1332.17 1121.24L1332.17 1150.09L1332.71 1149.85L1333.25 1149.57L1333.79 1148.06L1334.33 1147.97L1334.87 1147.5L1335.41 1148.49L1335.95 1147.02L1335.95 1118.79L1336.86 1117.92L1336.86 1146.11L1337.61 1145.36L1337.61 1117.35L1338.52 1116.48L1338.52 1144.45L1339.27 1143.7L1339.27 1115.54L1340.18 1114.67L1340.92 1113.96L1340.92 1142.05L1341.55 1142.68L1342.17 1140.06L1342.8 1140.15L1343.42 1139.32L1343.42 1110.98L1344.18 1110.18L1344.18 1138.48L1344.75 1137.36L1345.32 1136.88L1345.89 1136.35L1346.45 1134.65L1347.02 1135.71L1347.59 1134.72L1347.59 1113.68L1348.21 1113.03L1348.21 1134.06L1348.76 1133.52L1349.31 1133.03L1349.86 1133.58L1350.41 1131.82L1350.96 1131.59L1351.51 1130.26L1352.06 1130.15L1352.6 1129.37L1352.6 1112.4L1353.47 1111.5L1353.47 1128.44L1354.01 1127.38L1354.54 1126.85L1355.07 1126.99L1355.6 1126.58L1356.14 1125.85L1356.67 1124.69L1357.2 1124.52L1357.2 1097.5L1357.97 1096.77L1357.97 1123.75L1358.6 1123.12L1358.6 1096.24L1359.37 1095.51L1359.37 1122.35L1360 1121.72L1360 1094.39L1360.77 1093.66L1360.77 1120.95L1361.4 1120.32L1361.4 1093.04L1362.17 1092.3L1362.8 1091.7L1362.8 1118.92L1363.35 1117.26L1363.9 1117.42L1364.45 1116.18L1365 1116.01L1365.55 1115.59L1366.1 1114.32L1366.65 1113.74L1367.2 1113.37L1367.2 1087.04L1368.22 1085.75L1369.05 1084.69L1369.05 1110.9L1369.66 1109.63L1370.26 1109.1L1370.87 1108.53L1371.47 1107.61L1371.47 1080.74L1372.28 1079.52L1372.28 1106.33L1372.81 1104.57L1373.35 1104.59L1373.89 1104.8L1374.43 1102.86L1374.96 1102.17L1375.5 1101.19L1376.04 1099.67L1376.58 1099.45L1376.58 1073.33L1377.35 1072.15L1377.35 1098.22L1377.97 1097.45L1377.97 1071.1L1378.74 1070.3L1378.74 1096.61L1379.38 1095.92L1379.38 1069.99L1380.14 1069.18L1380.14 1095.07L1380.78 1094.38L1380.78 1068.52L1381.55 1067.71L1382.18 1067.05L1382.18 1092.85L1382.7 1092.29L1383.22 1090.42L1383.75 1090.67L1384.27 1089.91L1384.8 1089.35L1385.32 1088.59L1385.85 1086.7L1385.85 1061.13L1386.65 1059.52L1386.65 1085.02L1387.24 1084.88L1387.83 1082.62L1388.42 1081.6L1389.01 1079.79L1389.6 1078.81L1389.6 1053.81L1390.4 1052.32L1390.4 1077.25L1390.96 1077.08L1391.51 1075.16L1392.07 1074.24L1392.07 1049.59L1392.76 1048.39L1392.76 1073L1393.28 1073.06L1393.79 1070.36L1394.31 1070.16L1394.82 1069.33L1395.34 1069.41L1395.85 1067.44L1395.85 1043.3L1396.65 1041.96L1396.65 1066.04L1397.23 1065.07L1397.81 1064.32L1398.39 1063.61L1398.97 1062.1L1398.97 1038.37L1399.78 1037.07L1399.78 1060.74L1400.31 1060.36L1400.85 1058.59L1401.38 1056.59L1401.92 1056.4L1402.46 1056.37L1402.99 1056.02L1403.53 1053.7L1404.06 1053.3L1404.6 1053.6L1404.6 1030.55L1405.4 1029.63L1405.4 1052.64L1405.9 1050.23L1406.41 1051.8L1406.91 1051.46L1407.41 1048.64L1407.92 1050.11L1408.42 1048.97L1408.92 1049.06L1409.43 1047.24L1409.93 1045.75L1410.43 1044.76L1410.93 1043.34L1411.44 1040.71L1411.94 1038.41L1412.44 1035.38L1412.95 1034.23L1413.45 1032.11L1413.45 1015.24L1414.47 1012.09L1415.3 1009.52L1415.3 1026.22L1415.83 1025.03L1416.35 1022.84L1416.88 1020.9L1417.4 1020.5L1417.92 1019.01L1418.45 1016.37L1418.45 999.82L1419.34 997.22L1419.34 1013.7L1420.07 1011.51L1420.07 995.58L1420.96 992.98L1420.96 1008.84L1421.69 1006.65L1421.69 990.64L1422.58 988.11L1422.58 1004.05L1423.31 1002.52L1423.31 986.58L1424.2 984.77L1424.2 1000.65L1424.93 999.13L1424.93 983.57L1425.82 981.75L1426.55 980.27L1426.55 995.73L1427.16 994.09L1427.76 993.97L1428.37 991.91L1428.97 990.87L1428.97 975.46L1429.78 974.6L1429.78 989.99L1430.31 989.16L1430.85 989.27L1431.39 988.81L1431.93 987.07L1432.46 987.5L1433 988.48L1433.54 985.76L1434.08 985.24L1434.08 969.5L1434.93 968.58L1434.93 984.3L1435.63 983.59L1435.63 967.89L1436.49 967.06L1436.49 982.73L1437.19 982.03L1437.19 966.31L1438.04 965.48L1438.04 981.18L1438.74 980.48L1438.74 964.91L1439.6 964.08L1440.3 963.4L1440.3 978.92L1440.74 978.51L1441.17 977.99L1441.61 977.51L1442.04 976.2L1442.48 975.96L1442.91 974.39L1443.35 974.04L1443.35 959.55L1444.15 958.09L1444.15 972.55L1444.56 971.76L1444.97 970.87L1445.38 970.43L1445.78 969.49L1446.19 968.72L1446.6 968.16L1447.01 966.9L1447.42 966.06L1447.83 965.2L1447.83 947.32L1448.68 945.53L1448.68 963.34L1449.38 961.83L1449.38 944.09L1450.23 942.55L1450.92 941.88L1450.92 959.55L1451.4 959.1L1451.88 958.78L1452.35 958.54L1452.83 957.64L1452.83 954.69L1453.24 954.28L1453.24 957.23L1453.65 957.15L1454.05 956.4L1454.45 956.45L1454.86 956.47L1455.26 956.52L1455.66 956.51L1456.07 956.26L1456.47 956.77L1456.87 956.08L1457.28 956.14L1457.68 956.62L1458.09 956.94L1458.49 957.14L1458.89 957.65L1459.3 958.16L1459.7 958.32L1459.7 940.75L1460.92 943.3L1460.92 960.95L1461.34 963.34L1461.75 965.14L1462.17 965.54L1462.58 964.13L1462.99 963.33L1463.41 962.28L1463.82 962.14L1464.23 962.12L1464.65 962.73L1465.06 962.83L1465.47 963.43L1465.89 963.82L1466.3 964.09L1466.71 964.94L1467.13 964.71L1467.54 965.7L1467.96 966.63L1468.37 966.16L1468.78 966.89L1469.2 968.14L1469.61 970.18L1470.02 971.4L1470.44 973.66L1470.85 975.12L1470.85 956.83L1471.65 961.13L1471.65 979.55L1472.07 982.24L1472.49 985.14L1472.91 988.46L1473.34 989.74L1473.76 988.84L1474.18 988.05L1474.6 987.75L1474.6 969.06L1475.4 967.99L1475.4 986.64L1475.81 985.47L1476.23 985.67L1476.64 981.62L1477.06 976.69L1477.47 973.42L1477.88 968.51L1478.3 965.66L1478.71 963.56L1478.71 945.7L1479.41 942.2L1479.41 959.95L1479.84 957.31L1480.26 955.3L1480.68 953.13L1481.11 951.18L1481.53 947.96L1481.96 944.38L1482.38 940.8L1482.8 937.29L1483.23 935.4L1483.65 938.31L1484.08 940.83L1484.08 924.19L1484.67 927.78L1484.67 944.52L1485.09 947.58L1485.51 949.37L1485.93 952.47L1486.35 954.18L1486.77 955.03L1487.19 955.64L1487.61 956.29L1488.03 957L1488.45 954.54L1488.45 937.45L1489.3 932.29L1489.3 949.23L1490 949.36L1490 932.48L1490.85 933.5L1491.55 934.34L1491.55 951.29L1491.96 952.08L1492.36 954.82L1492.77 957.5L1493.17 959.69L1493.17 946.38L1494.01 951.47L1494.01 964.9L1494.42 967.39L1494.83 970.06L1495.24 970.99L1495.65 970.16L1496.06 969.22L1496.47 969.11L1496.89 967.86L1497.3 967.49L1497.71 967.38L1498.12 966.5L1498.53 965.88L1498.94 962.53L1499.35 956.37L1499.76 949.7L1500.18 942.83L1500.59 936.91L1500.59 920.49L1501.29 927.77L1501.29 944.41L1501.73 949.47L1502.18 953.6L1502.62 955.6L1503.07 949.8L1503.51 942.92L1503.96 935.9L1503.96 919.53L1504.37 913.44L1504.37 929.64L1504.78 924.47L1505.19 919.41L1505.6 914.55L1506 913.24L1506.41 912.41L1506.82 911.67L1507.23 911.06L1507.63 910.96L1508.04 912.01L1508.45 913.32L1508.45 898.5L1509.22 900.75L1509.22 915.63L1509.85 917.52L1509.85 902.21L1510.62 903.55L1510.62 918.9L1511.25 919.85L1511.25 904.42L1512.02 905.55L1512.02 921.01L1512.65 921.96L1512.65 906.45L1513.42 907.58L1514.05 908.82L1514.05 924.39L1514.46 925.41L1514.87 926.84L1515.28 927.97L1515.69 928.28L1516.1 930L1516.51 930.93L1516.92 932.33L1517.33 939.2L1517.74 945.54L1518.15 952.1L1518.56 958.89L1518.97 963.51L1518.97 945.65L1519.78 951.81L1519.78 969.86L1520.22 972.91L1520.67 977.41L1521.12 980.38L1521.56 984.2L1522.01 985.29L1522.46 978.98L1522.9 972.72L1523.35 966.42L1523.35 948.41L1524.15 937.55L1524.15 955.22L1524.62 954.94L1525.08 962.59L1525.55 969.24L1526.01 976.45L1526.47 983.92L1526.47 965.35L1527.28 977.37L1527.28 996.33L1527.71 998.22L1528.15 994.35L1528.59 989.98L1529.03 986.08L1529.46 982.24L1529.9 978.23L1530.34 974.1L1530.78 971.59L1531.21 972.53L1531.21 954.32L1531.91 955.21L1531.91 973.45L1532.36 974.45L1532.81 1001.11L1533.26 1026.92L1533.7 1027.71L1534.15 1028.32L1534.6 1028.97L1534.6 1008.92L1535.4 1010.08L1535.4 1030.17L1535.8 1030.24L1536.2 1029.84L1536.61 1030.51L1537.01 1029.71L1537.41 1029.6L1537.81 1029.35L1538.21 1029.24L1538.62 1029.22L1539.02 1029.23L1539.42 1028.61L1539.82 1028.78L1540.22 1027.83L1540.22 1007.82L1541.03 1005.1L1541.03 1025.01L1541.44 1024.72L1541.85 1024.52L1542.27 1025.27L1542.68 1025.84L1543.09 1025.73L1543.51 1026.51L1543.92 1026.92L1544.33 1027.04L1544.75 1027.55L1545.16 1028.22L1545.57 1028.4L1545.99 1028.59L1546.4 1029.01L1546.81 1029.54L1547.23 1030.11L1547.64 1030.35L1548.06 1030.7L1548.47 1031.28L1548.88 1030.79L1549.3 1030.98L1549.71 1030.93L1550.12 1031.89L1550.54 1031.26L1550.95 1032L1550.95 1011.85L1551.55 1012.08L1551.55 1032.24L1551.96 1032.6L1552.37 1032.22L1552.78 1032.57L1553.2 1032.84L1553.61 1033.25L1554.02 1032.85L1554.43 1033.48L1554.84 1033.74L1555.25 1033.76L1555.67 1033.93L1556.08 1034.37L1556.49 1034.27L1556.9 1034.38L1557.31 1034.46L1557.72 1034.71L1557.72 1014.47L1558.53 1014.78L1558.53 1035.03L1558.95 1035.13L1559.37 1035.53L1559.79 1035.56L1560.21 1035.99L1560.63 1035.68L1561.05 1036.06L1561.47 1036.09L1561.47 1015.8L1562.28 1015.7L1562.28 1035.99L1562.71 1036.04L1563.15 1036.16L1563.59 1035.92L1564.03 1035.99L1564.46 1036.2L1564.9 1035.86L1565.34 1035.32L1565.78 1035.17L1566.21 1035.48L1566.21 1015.21L1566.91 1014.46L1566.91 1034.7L1567.31 1034.14L1567.72 1033.84L1568.12 1033.26L1568.52 1032.83L1568.52 1012.66L1569.08 1012.03L1569.08 1032.19L1569.5 1032.01L1569.91 1030.94L1570.33 1030.57L1570.74 1029.65L1571.16 1028.61L1571.58 1028.32L1571.99 1027.34L1572.41 1026.7L1572.83 1025.81L1572.83 1006.2L1573.68 1004.65L1573.68 1024.21L1574.38 1022.9L1574.38 1003.62L1575.23 1001.94L1575.92 1000.25L1575.92 1019.41L1576.38 1018.2L1576.83 1017.16L1577.28 1015.92L1577.74 1014.88L1577.74 999.33L1578.51 997.45L1578.51 1012.94L1578.96 1011.74L1579.41 1010.63L1579.86 1009.63L1580.31 1008.49L1580.75 1006.94L1581.2 1005.62L1581.65 1004.75L1582.1 1003.72L1582.1 988.46L1582.9 986.42L1582.9 1001.62L1583.33 1000.26L1583.75 999.16L1584.17 998.18L1584.6 997.17L1584.6 982.08L1585.4 979.65L1585.4 994.67L1585.81 992.77L1586.22 991.56L1586.62 990.31L1587.03 988.7L1587.44 986.91L1587.85 985.68L1588.26 984.28L1588.67 983L1589.08 981.33L1589.08 962.85L1590.3 958.22L1590.3 976.55L1590.71 974.5L1591.12 972.73L1591.52 970.92L1591.93 968.59L1592.34 966.68L1592.75 964.92L1593.16 963.19L1593.57 960.94L1593.97 958.87L1593.97 941.27L1594.78 936.61L1594.78 954.07L1595.27 951.17L1595.77 948.37L1596.27 944.42L1596.77 942.11L1596.77 925.97L1597.84 918.61L1598.71 910.6L1598.71 926.31L1599.13 921.86L1599.55 917.89L1599.97 913.93L1600.39 908.01L1600.81 902.09L1601.23 896.11L1601.65 890.29L1602.07 878.8L1602.49 859.13L1602.91 817.75L1603.33 781.52L1603.33 777.8L1604.06 735.07L1604.66 722.06L1604.66 725.38L1605.08 722.66L1605.49 720.52L1605.91 719.5L1606.33 718.88L1606.75 718.42L1607.16 717.86L1607.58 717.84L1608 720.47L1608 715.93L1608.8 720.3L1608.8 724.87L1609.22 729.71L1609.63 735.28L1610.05 740.68L1610.46 746.41L1610.88 752.16L1611.3 759.97L1611.3 753.25L1611.69 770.54L1611.69 777.48L1612.12 795.46L1612.55 813.28L1612.98 829.2L1613.41 842.36L1613.41 832.72L1614.23 849.36L1614.23 859.29L1614.65 865.75L1615.06 872.37L1615.48 877.13L1615.89 882.12L1616.31 887.39L1616.31 879.29L1617.2 890.19L1617.2 898.46L1617.67 904.62L1618.15 911.41L1618.62 918.67L1618.62 904.86L1618.99 907.54L1618.99 921.42L1619.48 922.75L1619.98 924.89L1620.47 927.35L1620.47 917.94L1621.25 921L1621.88 923.95L1621.88 933.46L1622.29 934.97L1622.7 936.73L1623.1 938.88L1623.51 942.18L1623.92 945.62L1624.33 949.28L1624.73 952.72L1625.14 955.96L1625.55 958.68L1625.95 961.29L1626.36 963.98L1626.77 966.43L1627.17 968.25L1627.58 969.67L1627.99 970.96L1628.4 972.31L1628.8 974.11L1628.8 965.16L1629.4 967.05L1629.4 976.03L1629.8 976.88L1630.21 977.95L1630.61 978.54L1631.01 979.26L1631.42 979.94L1631.82 980.67L1632.22 981.32L1632.63 981.81L1633.03 982.08L1633.43 982.28L1633.84 983.01L1633.84 965.43L1634.33 965.68L1634.33 983.27L1634.74 982.95L1635.16 982.75L1635.57 981.76L1635.98 980.91L1636.39 979.99L1636.81 978.95L1637.22 978.1L1637.63 977.24L1638.04 976.41L1638.45 975.45L1638.87 974.62L1639.28 973.88L1639.69 972.97L1640.1 972.42L1640.52 971.94L1640.52 954.95L1641.31 953.4L1641.31 970.34L1641.8 968.59L1642.29 967.55L1642.78 966.89L1642.78 950.98L1643.6 949.13L1643.6 964.99L1644 963.33L1644.4 962.57L1644.8 961.57L1645.2 960.35L1645.6 958.66L1646 957.11L1646.4 955.57L1646.8 953.98L1647.2 952.3L1647.6 950.73L1648 949.12L1648.4 947.59L1648.8 945.86L1649.2 943.23L1649.6 941.33L1649.6 926.96L1650.07 924.07L1650.07 938.36L1650.52 935L1650.96 932.04L1651.41 929.29L1651.86 926.4L1652.31 923.42L1652.31 913.19L1653.4 904.63L1654.29 897.63L1654.29 907.58L1654.74 904.05L1655.18 901.47L1655.63 898.63L1656.07 895.95L1656.52 894L1656.52 883.25L1657.56 878.39L1658.42 875.02L1658.42 885.61L1658.82 883.46L1659.23 881.87L1659.64 880.18L1660.04 878.55L1660.45 877.08L1660.86 875.56L1661.27 874.12L1661.67 872.63L1662.08 871.33L1662.49 869.83L1662.89 868.36L1663.3 866.44L1663.71 863.79L1664.11 861.35L1664.52 858.85L1664.93 856.16L1665.34 850.98L1665.34 841.78L1665.91 832.99L1665.91 842.04L1666.33 835.36L1666.75 830.17L1667.18 824.97L1667.6 820.1L1668.02 814.88L1668.44 809.98L1668.87 804.99L1669.29 799.98L1669.71 794.4L1670.13 788.98L1670.55 783.62L1670.55 777.8L1671.16 769.75L1671.16 775.49L1671.57 769.88L1671.98 764.81L1672.39 759.96L1672.8 757.34L1673.21 755.55L1673.62 753.6L1674.03 751.81L1674.44 749.9L1674.86 748.13L1675.27 743.5L1675.68 737.99L1676.09 732.14L1676.5 722.66L1676.5 715.78L1677.3 694.37L1677.3 700.98L1677.75 716.21L1678.2 730.02L1678.2 726.81L1679.07 733.86L1679.07 737.12L1679.48 739.04L1679.9 736.7L1680.32 734.6L1680.73 732.58L1681.15 730.47L1681.56 725.85L1681.98 721.09L1681.98 714.78L1682.86 703.67L1682.86 709.85L1683.43 696.69L1684 680.76L1684 676.62L1684.8 673.99L1684.8 678.11L1685.37 690.38L1685.37 687.69L1686.13 700.4L1686.13 703.16L1686.53 703.39L1686.94 701.41L1687.35 699.42L1687.76 696.63L1688.16 691.82L1688.57 680.33L1688.98 668.45L1689.38 656.8L1689.79 645.99L1690.2 635.54L1690.6 624.93L1691.01 620.58L1691.42 616.24L1691.82 611.92L1692.23 615.1L1692.64 619.72L1693.04 624.29L1693.45 609.41L1693.45 607.58L1694.43 581.17L1694.43 582.89L1694.84 580.9L1695.26 579.59L1695.68 577.21L1696.1 570L1696.52 562.67L1696.94 555.99L1697.36 553.14L1697.78 550.28L1698.19 548.59L1698.19 546.02L1698.96 545.76L1698.96 548.33L1699.37 547.63L1699.79 547.5L1700.2 548.13L1700.61 549.7L1701.02 551.68L1701.44 552.42L1701.85 552.19L1702.26 552.2L1702.67 552.02L1703.09 551.82L1703.5 549.32L1703.91 546.8L1704.32 544.28L1704.73 547.34L1705.15 551.82L1705.56 556.88L1705.56 554.82L1706.24 554.23L1706.24 556.28L1706.7 554.77L1707.16 554.25L1707.62 551.57L1708.08 543.55L1708.54 536.13L1709 536.3L1709 533.32L1709.8 532.66L1709.8 535.64L1710.38 535.55L1710.96 536.91L1710.96 535.21L1711.62 536.19L1711.62 537.9L1712.05 537.99L1712.47 538.68L1712.9 540.05L1713.33 541.66L1713.76 543.62L1713.76 540.49L1714.59 543.38L1715.27 545.61L1715.27 548.78L1715.69 549.46L1716.12 550.85L1716.54 551.99L1716.96 552.98L1717.38 552.59L1717.8 552.64L1718.22 552.4L1718.65 552.22L1719.07 552.12L1719.49 551.6L1719.91 551.3L1719.91 548L1720.66 546.51L1721.28 545.29L1721.28 548.57L1721.73 547.17L1722.18 546.03L1722.63 544.94L1723.08 543.97L1723.53 542.67L1723.98 541.69L1724.43 541.09L1724.43 538.3L1725.24 537.49L1725.24 540.28L1725.66 539.34L1726.08 539.01L1726.5 538.51L1726.92 538.1L1727.34 538.61L1727.76 539.24L1728.18 539.72L1728.6 540.31L1729.02 540.68L1729.44 541.23L1729.86 541.96L1730.28 542.75L1730.7 543.42L1731.12 544.29L1731.54 544.98L1731.96 545.92L1732.38 548.6L1732.8 551.53L1733.22 555.33L1733.22 554.12L1733.72 558.59L1733.72 559.82L1734.14 560.65L1734.55 557.27L1734.97 553.83L1735.38 550.5L1735.8 547.39L1736.21 544.99L1736.63 542.63L1737.04 541.95L1737.46 544.24L1737.87 546.47L1738.29 548.66L1738.7 550.81L1739.12 552.73L1739.53 554.32L1739.95 556.57L1739.95 554.77L1740.88 559.59L1740.88 561.41L1741.29 563.96L1741.69 567.03L1742.09 572.89L1742.5 581.8L1742.9 592.82L1743.3 607.73L1743.71 613.89L1744.11 611.97L1744.51 609.72L1744.92 607.45L1745.32 604.12L1745.72 600.89L1746.13 600.81L1746.53 607.86L1746.93 614.86L1747.33 611.23L1747.74 605.1L1748.14 599.13L1748.54 593.31L1748.95 589.17L1749.35 585.16L1749.75 581.22L1750.16 589.39L1750.56 597.39L1750.96 605.45L1751.37 618.95L1751.77 633.43L1751.77 629.52L1752.92 637.83L1753.87 682.83L1753.87 687.17L1754.31 690.58L1754.75 684.67L1755.19 674.23L1755.64 658.36L1756.08 642.27L1756.52 640.53L1756.96 648.12L1756.96 645.63L1757.46 653.56L1757.46 656.09L1757.88 680.22L1758.3 688.75L1758.73 678.43L1759.15 668.36L1759.57 666.17L1759.57 661.51L1759.93 668.24L1759.93 672.96L1760.35 680.24L1760.77 688.4L1761.19 697.36L1761.61 708.76L1762.03 727.66L1762.45 746.47L1762.87 763.68L1763.29 780.9L1763.29 773.13L1763.94 797.1L1763.94 805.22L1764.36 818.18L1764.79 831.79L1765.21 845.1L1765.64 858.08L1766.06 870.87L1766.49 884.31L1766.91 898.38L1767.33 912.06L1767.76 923.88L1768.18 934.54L1768.61 945.06L1769.03 955.82L1769.46 966.47L1769.88 976.57L1770.31 986.06L1770.73 993.73L1770.73 984.53L1771.43 988.49L1771.43 997.76L1771.9 999.93L1772.36 1001.12L1772.83 1002.37L1773.29 1004.23L1773.29 992.37L1773.84 993.82L1773.84 1005.72L1774.31 1006.42L1774.77 1007.68L1775.24 1008.87L1775.71 1010.58L1775.71 993L1776.27 993.54L1776.27 1011.14L1776.73 1011.1L1777.2 1011.55L1777.66 1012.53L1777.66 994.51L1778.05 994.89L1778.05 1012.92L1778.45 1012.23L1778.86 1011.7L1779.27 1011.45L1779.68 1010.93L1780.09 1010.81L1780.09 999.98L1781.06 996.52L1781.06 1007.28L1781.47 1005.22L1781.87 1003.88L1782.28 1001.88L1782.69 1000.17L1783.09 998.29L1783.5 996.33L1783.91 994.55L1784.31 992.92L1784.72 990.72L1785.13 988.54L1785.53 986.22L1785.94 983.73L1786.35 981.75L1786.75 979.45L1787.16 976.89L1787.57 974.15L1787.97 971.37L1788.38 968.61L1788.79 965.99L1789.19 962.63L1789.6 959.24L1790.01 955.96L1790.41 952.78L1790.82 949.48L1791.23 946.25L1791.63 942.93L1792.04 939.78L1792.45 936.51L1792.85 931.44L1793.26 926.38L1793.67 920.99L1794.07 916.67L1794.48 912.56L1794.89 908.63L1795.29 905.25L1795.7 902.37L1795.7 890.39L1796.39 885.55L1796.39 897.42L1796.8 895.12L1797.22 893.58L1797.63 892.58L1798.05 893.1L1798.46 893.39L1798.88 893.8L1799.29 894.5L1799.71 895.1L1800.12 895.26L1800.54 894.17L1800.54 887.76L1801.2 885.39L1801.2 891.78L1801.65 889.63L1802.1 887.5L1802.55 884.82L1803 881.97L1803.45 879.2L1803.9 876.1L1804.35 873.19L1804.35 863.16L1805.5 850.59L1806.45 833.93L1806.45 843.45L1806.86 831.34L1807.27 819.52L1807.68 807.9L1808.08 796.48L1808.49 786.38L1808.9 776.15L1809.31 766.01L1809.72 755.72L1810.12 745.3L1810.53 735.21L1810.53 728.07L1811.37 706.18L1812.06 690L1812.06 696.65L1812.49 689.43L1812.92 682.56L1813.35 679.42L1813.78 678.71L1814.21 677.83L1814.64 668.82L1815.07 653.78L1815.07 650.5L1815.77 625.43L1815.77 628.54L1816.18 620.1L1816.59 611.96L1817.01 604.45L1817.42 598.05L1817.84 591.58L1818.25 585.5L1818.66 580L1819.08 574.54L1819.49 569.14L1819.91 563.72L1820.32 559.42L1820.74 555.78L1821.15 552.07L1821.56 549.92L1821.98 548.31L1822.39 546.44L1822.81 544.91L1823.22 543.12L1823.22 540.51L1823.6 537.1L1823.6 539.7L1824 535.46L1824.4 531.84L1824.8 528.44L1825.2 526.55L1825.6 524.7L1826 522.85L1826.4 520.99L1826.8 519.01L1827.2 514.16L1827.6 508.31L1828 502.46L1828.4 495.06L1828.8 485.21L1829.2 474.99L1829.6 464.92L1830 455L1830.4 445.04L1830.8 434.48L1831.2 420.1L1831.6 405.89L1832 391.61L1832.4 377.21L1832.8 366.13L1833.2 356.32L1833.6 346.05L1834 336.24L1834.4 326.21L1834.8 316.34L1835.2 308.4L1835.6 302.57L1836 297.02L1836.4 291.16L1836.8 285.65L1837.2 279.91L1837.6 274.06L1838 268.41L1838.4 262.65L1838.8 254.07L1839.2 244.78L1839.6 235.28L1840 225.87L1840.4 216.06L1840.8 205.09L1841.2 194.06L1841.6 187.94L1842 183.61L1842.4 180.13L1842.8 175.75L1843.2 171.4L1843.6 167.98L1844 164.55L1844.4 161.33L1844.8 157.79L1845.2 154.52L1845.6 151.16L1846 147.58L1846.4 143.74L1846.8 139.91L1847.2 136.57L1847.6 135.08L1848 133.33L1848.4 131.52L1848.8 129.75L1849.2 128.06L1849.6 126.26L1850 125.14L1850.4 125L1850.8 124.55L1851.2 124.36L1851.6 124.27L1852 123.66L1852.4 123.59L1852.8 123.42L1853.2 123.07L1853.6 122.75L1854 122.48L1854.4 121.53L1854.8 120.14L1855.2 119.35L1855.6 118.95L1856 118.64L1856.4 118.28L1856.8 117.96L1857.2 117.46L1857.6 117.21L1858 116.86L1858.4 116.52L1858.8 116.15L1859.2 115.73L1859.6 115.63L1860 115.33L1860.4 115.13L1860.8 114.68L1861.2 114.44L1861.6 114.04L1862 113.64L1862.4 113.39L1862.8 113.07L1863.2 113.05L1863.6 112.88L1864 112.66L1864.4 112.7L1864.8 112.56L1865.2 112.37L1865.6 112.25L1866 112.25L1866.4 112.1L1866.8 112L1867.2 112.03L1867.6 112.16L1868 112.12L1868.4 111.98L1868.8 112.19L1869.2 112.1L1869.6 112.21L1870 112.17L1870.4 112.04L1870.8 112.08L1871.2 112.01L1871.6 111.99L1872 112.03L1872.4 112.09L1872.8 112.16L1873.2 111.97L1873.6 112.1L1874 112.04L1874.4 112.02L1874.8 112.12L1875.2 112L1875.6 112.13"/>
<path id="average" stroke="#000000" d="M280.4 196.36L280.8 195.98L281.2 195.55L281.6 195.24L282 194.76L282.4 194.39L282.8 194.06L283.2 193.64L283.6 193.32L284 192.78L284.4 192.61L284.8 191.44L285.2 190.5L285.6 189.41L286 188.57L286.4 187.63L286.8 186.62L287.2 185.23L287.6 183.55L288 182.12L288.4 180.65L288.8 179.31L289.2 179.35L289.61 179.14L290.01 179L290.41 178.91L290.81 178.67L291.21 178.55L291.61 178.42L292.01 181.95L292.41 195.15L292.81 208.13L293.21 207.5L293.61 206.63L294.01 206.02L294.41 205.41L294.81 204.62L295.21 204.22L295.61 204.09L296.01 203.84L296.41 203.58L296.81 203.25L297.21 202.97L297.61 202.86L298.01 202.66L298.41 202.63L298.81 202.63L299.21 202.4L299.61 202.3L300.01 202.26L300.41 202.22L300.81 202.13L301.21 202.02L301.61 201.96L302.01 201.71L302.41 201.68L302.81 201.67L303.21 201.59L303.61 201.8L304.01 202.05L304.41 202.31L304.81 202.61L305.21 202.79L305.61 203.11L306.01 202.91L306.41 202.44L306.81 202.24L307.21 201.84L307.62 201.41L308.02 201.16L308.42 200.79L308.82 200.59L309.22 199.98L309.62 199.73L310.02 199.22L310.42 198.56L310.82 198.33L311.22 197.94L311.62 193.95L312.02 185.6L312.42 185.12L312.82 185.02L313.22 184.61L313.62 184.52L314.02 183.71L314.42 182.82L314.82 182.24L315.22 181.58L315.62 180.53L316.02 180.01L316.42 179.76L316.82 179.54L317.22 179.42L317.62 179.32L318.02 180.68L318.42 183.86L318.82 186.88L319.22 189.78L319.62 197.38L320.02 208.09L320.42 215.87L320.82 224.09L321.22 231.96L321.62 239.94L322.02 248.08L322.42 255.98L322.82 262.38L323.22 268.48L323.62 274.46L324.02 280.43L324.42 286.25L324.82 292.24L325.22 299.77L325.62 307.95L326.03 316.37L326.43 324.61L326.83 333.02L327.23 341.27L327.63 350.08L328.03 358.62L328.43 367.45L328.83 376.2L329.23 385.06L329.63 393.61L330.03 402.47L330.43 411.21L330.83 421.04L331.23 431.57L331.63 442.02L332.03 452.61L332.43 463.1L332.83 474.71L333.23 486.44L333.63 498.17L334.03 509.99L334.43 522.42L334.83 535.43L335.23 548.08L335.63 560.57L336.03 567.77L336.43 574.61L336.83 581.75L337.23 588.91L337.63 596.11L338.03 603.43L338.43 610.38L338.83 617.5L339.23 624.2L339.63 630.83L340.03 637.66L340.43 644.74L340.83 651.68L341.23 658.71L341.63 666.05L342.03 672.99L342.43 680.35L342.83 689.28L343.23 701.49L343.63 713.85L344.04 734.02L344.44 756.81L344.84 775.25L345.24 781.75L345.64 788.58L346.04 795.2L346.44 801.05L346.84 806.01L347.24 811.11L347.64 815.94L348.04 821.07L348.44 826.06L348.84 831.31L349.24 836.87L349.64 842.83L350.04 848.38L350.44 854.03L350.84 858.5L351.24 862.52L351.64 866.38L352.04 870.32L352.44 874.4L352.84 878.35L353.24 882.49L353.64 886.96L354.04 891.19L354.44 895.49L354.84 899.82L355.24 904.11L355.64 908.5L356.04 912.82L356.44 917.07L356.84 921.48L357.24 926.04L357.64 930.26L358.04 934.59L358.44 939.14L358.84 943.35L359.24 947.64L359.64 952.16L360.04 956.55L360.44 962.27L360.84 968.01L361.24 973.66L361.64 979.29L362.05 984.98L362.45 990.66L362.85 996.48L363.25 1000.73L363.65 1002.9L364.05 1005.27L364.45 1007.22L364.85 1009.55L365.25 1011.69L365.65 1013.74L366.05 1015.8L366.45 1018.11L366.85 1020.28L367.25 1022.47L367.65 1024.27L368.05 1025.74L368.45 1027.13L368.85 1028.32L369.25 1029.9L369.65 1031.18L370.05 1032.5L370.45 1033.9L370.85 1035.31L370.9 1033.24L371.6 1035.99L371.65 1038.07L372.07 1039.39L372.5 1041.01L372.93 1042.26L373.35 1043.55L373.4 1038.6L374.1 1040.98L374.15 1045.95L374.69 1047.45L375.23 1049.18L375.28 1045.55L375.97 1047.93L376.02 1051.57L376.44 1052.78L376.85 1054.05L377.65 1056.4L378.06 1057.43L378.47 1058.63L378.89 1059.69L379.3 1060.69L379.71 1061.76L380.12 1062.89L380.53 1064.09L380.95 1065.11L381.36 1066.21L381.77 1067.25L382.18 1068.34L382.59 1069.47L383.01 1070.39L383.42 1071.76L383.83 1072.57L384.24 1073.24L384.66 1074.06L385.07 1074.63L385.48 1075.27L385.89 1075.88L386.3 1076.46L386.72 1077.26L387.13 1078L387.54 1078.49L387.95 1079.33L388.36 1079.79L388.78 1080.48L389.19 1081.24L389.6 1081.86L389.65 1077.65L390.35 1078.72L390.4 1082.93L390.82 1083.33L391.24 1083.77L391.66 1084.16L392.09 1084.67L392.51 1085.14L392.93 1085.57L393.35 1086.14L393.4 1080.78L394.1 1081.64L394.15 1087.01L394.57 1087.3L394.99 1088.12L395.41 1088.31L395.84 1088.74L396.26 1089.39L396.68 1089.84L397.1 1090.21L397.9 1091.08L398.3 1091.4L398.71 1091.87L399.11 1092.27L399.51 1092.36L399.92 1092.52L400.32 1092.77L400.72 1093.65L401.13 1092.42L401.53 1093.18L401.93 1092.83L402.34 1094.99L402.74 1095L403.14 1094.72L403.55 1094.33L403.95 1094.96L404.36 1093.65L404.76 1095.16L405.16 1094.47L405.57 1094.68L405.97 1095.22L406.37 1095.62L406.78 1096.33L407.18 1096.6L407.58 1096.56L407.99 1096.1L408.39 1097.19L408.79 1096.95L409.2 1097.85L409.6 1097.37L410.4 1097.73L410.92 1096.43L411.44 1097.92L411.95 1099.59L412.47 1098.9L412.99 1098.76L413.51 1099.58L414.03 1099.6L414.54 1099.8L415.06 1099.49L415.58 1100.05L416.1 1100.34L416.62 1100.11L417.13 1100.07L417.65 1100.99L418.17 1101.68L418.69 1101.73L419.21 1101.87L419.72 1102.11L420.24 1103.48L420.76 1102.43L421.28 1103.08L421.8 1103.66L422.31 1102.69L422.83 1102.89L423.35 1102.82L424.15 1102.94L424.74 1103.96L425.33 1103.29L425.92 1103.41L426.51 1103.35L427.1 1103.39L427.9 1103.51L428.42 1104.2L428.93 1103.53L429.45 1102.8L429.97 1103.75L430.49 1102.95L431 1103.43L431.52 1104.07L432.04 1103.64L432.55 1104.81L433.07 1103.49L433.59 1104.52L434.11 1104.78L434.62 1105.39L435.14 1105.2L435.66 1104.93L436.17 1104.95L436.69 1104.98L437.21 1105.75L437.73 1111.99L438.52 1105.39L439.03 1105.79L439.53 1105.56L440.04 1105.85L440.54 1105.67L441.05 1107.1L441.55 1105.67L442.05 1106.27L442.56 1106.39L443.06 1106.68L443.57 1106.7L444.07 1106.79L444.57 1107.2L445.08 1105.94L445.58 1106.87L446.09 1106.97L446.14 1102.28L446.74 1102.41L446.79 1107.1L447.47 1106.59L448.15 1107.36L448.85 1107.5L449.36 1107.57L449.87 1108.47L450.39 1108.12L450.9 1108.06L451.41 1108.77L451.92 1107.58L452.43 1107.04L452.95 1108.06L453.46 1108.24L453.97 1109.17L454.48 1109.76L454.99 1107.95L455.5 1110.15L456.02 1109.74L456.53 1109.44L457.04 1109.28L457.55 1110.51L458.06 1109.32L458.58 1109.11L459.09 1109.5L459.6 1109.44L459.65 1101.85L460.35 1101.89L460.4 1109.48L460.9 1109.45L461.4 1109.72L461.9 1109.76L462.4 1109L462.9 1110.33L463.4 1109.07L463.9 1110.14L464.4 1108.8L464.9 1109.91L465.4 1109.28L465.9 1109.77L466.4 1109.42L466.9 1108.6L467.4 1109.21L467.9 1109.84L468.6 1109.87L469.12 1110.25L469.64 1109.12L470.17 1108.79L470.69 1109.5L471.21 1109.89L471.73 1109.71L472.25 1109.66L472.77 1110.15L472.82 1103.55L473.43 1103.62L473.48 1110.22L474.02 1110.69L474.56 1109.82L475.1 1110.44L475.65 1110.34L476.19 1109.72L476.73 1111.04L477.28 1110.66L477.82 1110.4L478.36 1111.5L478.91 1111.19L479.45 1110.82L479.45 1101.69L480.61 1101.81L480.61 1110.94L481.55 1111.03L482.07 1111.64L482.59 1110.72L483.1 1111.21L483.62 1111.46L484.14 1111.9L484.66 1111.62L485.18 1111.2L485.69 1110.41L486.21 1110.81L486.73 1110.4L487.25 1109.75L487.77 1110.24L488.28 1109.42L488.8 1108.39L489.32 1109.16L489.84 1108.11L490.54 1108.21L491.06 1108.76L491.59 1107.8L492.11 1108.84L492.64 1108.54L493.16 1108.74L493.69 1108.43L494.21 1109.68L494.26 1106.82L494.86 1107.1L494.91 1109.96L495.65 1111.51L496.35 1113.13L496.85 1114.9L497.35 1114.43L497.85 1114.89L498.35 1113.96L498.85 1114.92L499.35 1114.69L499.85 1115.3L500.35 1115.23L500.85 1114.48L501.35 1114.33L501.85 1115.44L502 962.5L502.15 1115.51L502.66 1115.06L503.16 1116.13L503.67 1116.07L504.17 1116.16L504.68 1114.94L505.19 1114.67L505.69 1115.92L506.2 1116.18L506.71 1116.14L507.21 1116.77L507.72 1116.59L508.22 1116.14L508.73 1116.42L509.24 1117.08L509.74 1117.14L510.25 1124.49L510.76 1118.55L511.26 1117.26L511.77 1117.57L512.27 1117.61L512.98 1117.74L513.49 1117.65L514 1118.24L514.52 1118.37L515.03 1118.07L515.55 1118.48L516.07 1118.39L516.58 1117.43L517.1 1116.77L517.61 1119.94L518.12 1119.23L518.64 1118.85L519.15 1118.03L519.67 1118.38L520.19 1119.93L520.7 1117.76L521.22 1119.21L521.73 1119.95L522.25 1119.63L522.76 1120.04L523.27 1119.63L523.79 1121.09L524.31 1119.29L524.82 1119.18L525.34 1120.16L525.85 1120.08L525.9 1115.27L526.6 1115.39L526.65 1120.2L527.19 1120.86L527.74 1120.07L528.28 1119.79L528.83 1121.29L529.38 1121.47L529.92 1121.53L530.47 1120.52L531.01 1120.21L531.56 1120.28L532.1 1121.01L532.9 1121.12L533.44 1121.52L533.97 1121.59L534.51 1120.65L535.04 1121.68L535.58 1121.72L536.12 1121.9L536.65 1121.97L537.19 1122.01L537.73 1122.25L538.52 1122.45L539.09 1122.67L539.66 1122.86L540.23 1122.88L540.27 1121.06L540.98 1121.26L541.02 1123.08L541.55 1123.15L542.08 1122.18L542.6 1123.75L543.12 1123.47L543.65 1124.25L544.17 1123.79L544.7 1123.96L545.23 1124.14L545.27 1121.72L545.98 1121.92L546.02 1124.34L546.55 1124.21L547.07 1123.58L547.6 1125.68L548.12 1123.91L548.65 1124.69L549.17 1125.34L549.69 1125.3L550.22 1125.51L550.74 1125.72L551.27 1126.1L551.79 1125.67L552.31 1127.21L552.84 1125.72L553.54 1125.86L554.05 1126.08L554.56 1125.86L555.07 1125.86L555.58 1126.42L556.1 1127.17L556.61 1126.08L557.12 1126.18L557.63 1127.07L558.14 1127.08L558.65 1127.96L559.17 1127.47L559.68 1127.03L560.19 1126.73L560.7 1126.92L560.7 1121.09L561.62 1121.1L561.62 1126.92L562.38 1126.93L562.38 1121.15L563.3 1121.16L563.3 1126.94L564.05 1126.94L564.62 1127.88L565.19 1127.33L565.76 1127.47L566.33 1126.96L566.33 1123.42L567.14 1123.43L567.14 1126.97L567.8 1126.97L568.41 1126.87L569.01 1127.51L569.62 1127.15L570.23 1126.99L570.27 1121.64L570.98 1121.64L571.02 1127L571.54 1126.66L572.06 1127.15L572.58 1126.43L573.1 1127.01L573.62 1127.52L574.14 1127.18L574.66 1126.69L575.18 1126.89L575.7 1127.32L576.22 1127.55L576.74 1127.77L577.26 1127.26L577.77 1127.37L578.6 1127.42L579.16 1128.24L579.73 1127.65L580.29 1128.01L580.85 1128.35L581.65 1129.15L582.19 1129.12L582.73 1129.8L583.27 1130.06L583.81 1130.44L584.35 1129.82L584.4 1120.67L585.1 1120.59L585.15 1129.73L585.74 1129.54L586.33 1129.81L586.92 1130.27L587.51 1129.89L588.1 1129.44L588.9 1129.36L589.41 1130.09L589.91 1130L590.42 1129.73L590.92 1128.4L591.43 1129.57L591.93 1129.39L592.44 1128.72L592.95 1129.28L593.45 1129.13L593.96 1128.6L594.46 1128.74L594.97 1128.61L595.48 1128.8L595.52 1120L596.23 1120.08L596.27 1128.88L596.83 1129.23L597.38 1127.93L597.94 1128.89L598.49 1128.17L599.05 1128.89L599.6 1129.21L600.4 1129.29L600.91 1128.94L601.42 1129.68L601.94 1129.46L602.45 1129.49L602.45 1122.05L603.3 1122.14L603.3 1129.58L604 1129.65L604 1125.55L604.85 1125.63L604.85 1129.74L605.55 1129.81L606.12 1130.26L606.69 1129.26L607.26 1129.93L607.83 1129.87L608.4 1129.15L608.98 1130.35L609.02 1126.51L609.73 1126.7L609.77 1130.55L610.36 1131.42L610.94 1130.34L611.52 1131.9L612.1 1131.1L612.9 1131.3L613.49 1131.1L614.07 1131.2L614.66 1132.55L615.25 1131.77L615.84 1131.46L615.89 1124.42L616.2 1124.41L616.25 1131.45L616.75 1131.94L617.25 1132.2L617.75 1132.37L618.25 1131.22L618.76 1130.71L619.26 1129.92L619.76 1131.38L619.81 1126.36L620.26 1126.35L620.31 1131.37L620.86 1131.57L621.4 1131.41L621.95 1131.14L622.49 1130.97L623.04 1131.16L623.58 1131.3L624 1131.3L624.51 1130.31L625.03 1131.68L625.54 1130.46L626.06 1131.17L626.57 1130.93L627.09 1131.13L627.6 1130.81L628.12 1130.8L628.63 1131.36L629.15 1130.94L629.66 1132.94L630.18 1131.41L630.69 1131.33L631.21 1131.44L631.73 1131.8L631.77 1121.46L632.48 1121.53L632.52 1131.88L633.04 1131.78L633.56 1132.15L634.08 1131.2L634.6 1132.09L634.65 1130.56L635.35 1130.64L635.4 1132.16L635.97 1132.2L636.53 1132.47L637.1 1132.34L637.15 1123.31L637.85 1123.39L637.9 1132.41L638.43 1132.08L638.96 1133.01L639.49 1132.36L640.02 1132.88L640.55 1133.16L641.08 1132.68L641.61 1132.22L642.14 1133.35L642.67 1132.48L643.2 1133.09L643.94 1132.16L644.54 1134.28L645.27 1133.2L645.88 1134.02L646.61 1133.71L647.21 1133.79L647.21 1127.39L647.95 1127.5L647.95 1133.9L648.55 1133.99L649.06 1134.21L649.57 1134.14L650.09 1134.51L650.6 1134.3L651.3 1134.4L651.85 1134.73L652.4 1134.41L652.95 1133.77L653.5 1134.89L654.05 1135.35L654.6 1141.33L655.15 1134.64L655.7 1134.7L655.7 1130L656.58 1130.06L656.58 1134.76L657.3 1134.81L657.84 1134.63L658.39 1135.07L658.93 1135.31L659.47 1134.53L660.01 1135.31L660.56 1134.57L661.1 1135.07L661.15 1129.43L661.85 1129.48L661.9 1135.12L662.41 1134.89L662.91 1134.02L663.42 1134.77L663.93 1135.48L664.43 1135.44L664.94 1135.42L665.45 1136.04L665.95 1136.35L666.46 1136.61L666.97 1135.87L667.48 1136.49L667.52 1128.36L668.23 1128.63L668.27 1136.75L668.8 1136.44L669.33 1136.27L669.86 1137.22L670.39 1136.96L670.92 1138.8L671.45 1137.74L671.97 1137.85L672.5 1137.93L673.03 1138.33L673.08 1134.75L673.39 1134.88L673.44 1138.47L673.97 1138.55L674.5 1138.39L675.04 1138.92L675.57 1139.14L676.1 1139.35L676.25 1085.6L676.4 1139.46L676.91 1140.26L677.41 1139.08L677.92 1140.05L678.43 1141.15L678.94 1140.19L679.45 1140.57L679.95 1140.38L680.46 1139.63L680.97 1141.22L681.48 1141.49L682.27 1141.81L682.8 1141.69L683.33 1141.04L683.86 1142.31L684.38 1142.31L684.91 1142.92L685.44 1142.49L686.33 1142.67L686.87 1142.62L687.42 1143.09L687.96 1141.99L688.51 1143.71L689.05 1143.3L689.6 1143.32L690.4 1143.48L690.92 1144.16L691.45 1143.52L691.98 1143.7L692.5 1143.41L693.02 1142.86L693.55 1144.03L694.08 1144.29L694.6 1144.32L694.65 1140.22L695.35 1140.38L695.4 1144.48L695.92 1144.63L696.43 1144.93L696.95 1144.36L697.46 1143.91L697.98 1145.41L698.49 1145.43L699.01 1145.13L699.52 1145.06L700.04 1145.25L700.55 1145.43L701.07 1145.32L701.58 1144.6L702.1 1145.82L702.15 1135.29L702.85 1135.45L702.9 1145.98L703.42 1145.89L703.95 1146.01L704.48 1146.43L705 1145.5L705.52 1147.16L706.05 1146.96L706.58 1147.13L707.1 1146.82L707.9 1146.88L708.49 1146.4L709.08 1145.09L709.67 1146.96L710.26 1147.47L710.85 1146.73L711.65 1157.14L712.15 1146.36L712.65 1146.58L713.15 1146.76L713.65 1146.58L714.35 1146.54L715.15 1146.5L715.85 1146.47L716.35 1146.09L716.85 1147.28L717.35 1146.03L717.85 1147.22L718.35 1146.34L718.85 1145.39L719.35 1147.5L719.85 1145.72L720.35 1157.61L720.85 1146.29L721.65 1146.34L722.2 1146.07L722.75 1145.72L723.3 1146.99L723.85 1146.49L724.4 1145.8L724.95 1146.99L725.6 1146.4L726.12 1146.57L726.12 1139.52L726.77 1139.55L726.77 1146.6L727.3 1146.63L727.84 1147.34L728.38 1145.8L728.92 1147.39L729.46 1146.92L730 1146.7L730.54 1146.2L731.08 1145.95L731.62 1146.24L732.16 1146.87L732.7 1146.96L732.7 1143.46L733.51 1143.7L733.51 1147.2L734.17 1147.4L734.71 1147.47L735.24 1148.44L735.77 1147.69L736.3 1148.35L736.83 1147.6L737.36 1148.52L737.89 1148.56L738.42 1148.75L738.95 1148.58L739.87 1149.6L740.62 1149.62L741.55 1149.34L742.3 1149.8L742.81 1150.2L743.31 1149.84L743.82 1149.44L744.33 1150.96L744.84 1150.8L745.34 1149.94L745.85 1150.64L746.65 1150.69L747.3 1150.43L747.95 1150.1L748.6 1150.79L748.65 1140.54L749.35 1140.59L749.4 1150.83L749.92 1151.66L750.43 1150.69L750.95 1151.67L751.46 1151.58L751.98 1150.72L752.49 1150.07L753.01 1151.49L753.52 1151.38L754.04 1152.37L754.55 1151.88L755.07 1151.55L755.58 1152.08L756.1 1151.18L756.9 1151.22L757.46 1151.36L758.03 1151.1L758.59 1152.21L759.16 1151.56L759.72 1149.57L760.29 1152.01L760.85 1151.25L761.65 1151.25L762.16 1151.68L762.67 1150.99L763.18 1151.39L763.69 1151.61L764.2 1151.36L764.71 1150.73L765.22 1152.03L765.73 1151.48L766.24 1151.25L766.75 1151.65L767.26 1150.96L767.77 1151.25L768.48 1151.25L769.03 1151.38L769.58 1151.46L770.14 1151.51L770.69 1151.04L771.25 1151.11L771.8 1152.1L772.36 1152.19L772.98 1161.34L773.49 1153.4L774 1153.11L774.5 1152.46L775.01 1153.55L775.52 1153.92L776.03 1154.22L776.54 1154L777.04 1153.25L777.55 1154.66L778.06 1153.72L778.57 1154.54L779.08 1154.32L779.08 1152.23L779.76 1152.37L779.76 1154.45L780.31 1154.14L780.99 1155.04L781.55 1154.81L782.07 1155.11L782.58 1155.11L783.1 1155.3L783.62 1155.55L784.13 1155.69L784.65 1156.37L785.17 1155.51L785.68 1155.76L786.2 1155.74L786.2 1148.78L786.85 1148.91L786.85 1155.87L787.38 1155.97L787.38 1149.03L788.02 1149.15L788.02 1156.1L788.55 1156.21L789.07 1156.02L789.59 1156.06L790.11 1156.46L790.63 1156.14L791.16 1156.73L791.68 1156.71L792.2 1156.79L792.72 1157.07L793.24 1156.72L793.76 1156.83L794.28 1157.77L794.8 1156.83L795.33 1157.35L795.85 1156.99L796.37 1156.76L796.89 1156.81L797.41 1156.66L797.93 1157.17L798.45 1156.89L798.98 1157.84L799.76 1157.48L800.4 1157.41L801.06 1157.95L801.72 1157.27L802.38 1157.75L802.86 1157.86L803.42 1159.43L803.98 1158.56L804.54 1158.78L805.1 1158.48L805.66 1158.95L806.23 1158.61L807.02 1158.78L807.55 1158.43L808.08 1159.25L808.61 1159.58L809.13 1159.02L809.66 1159.26L810.19 1159.28L810.71 1159.5L811.24 1159.06L811.77 1159.04L812.3 1159.9L812.82 1159.07L813.35 1160.09L814.15 1160.16L814.66 1159.85L815.18 1159.68L815.69 1160.44L816.21 1160.12L816.72 1160.37L817.24 1159.91L817.75 1160.53L818.59 1160.61L819.15 1160.94L819.72 1160.91L820.28 1160.51L820.85 1160.84L821.65 1160.91L822.24 1161.06L822.83 1161.11L823.42 1161.96L824.01 1160.92L824.6 1161.21L824.65 1154.51L825.35 1154.58L825.4 1161.28L825.92 1161.18L826.45 1160.71L826.97 1161.77L827.49 1161.58L828.02 1161.5L828.54 1161.53L829.06 1161.57L829.58 1161.11L830.11 1161.8L830.63 1160.69L831.15 1161.71L831.68 1160.94L832.2 1161.83L832.2 1154.6L833 1154.66L833 1161.89L833.65 1161.94L833.65 1154.77L834.45 1154.84L834.45 1162.01L835.1 1162.06L835.1 1154.96L835.9 1155.02L835.9 1162.12L836.55 1162.17L837.13 1162.56L837.72 1162.49L838.3 1161.59L838.88 1162.6L839.47 1162.3L839.89 1162.31L840.4 1162.56L840.91 1161.69L841.43 1163.39L841.94 1161.4L842.45 1162.37L842.5 1159.13L842.96 1159.14L843.01 1162.39L843.54 1161.39L844.06 1162.25L844.59 1163.19L845.11 1163.03L845.63 1161.51L846.16 1162.15L846.68 1161.8L847.21 1161.9L847.73 1162.2L848.25 1163.76L848.78 1163.02L849.3 1163.03L849.83 1163.38L850.67 1163.71L851.22 1164.24L851.76 1164.46L852.3 1163.78L852.85 1164.44L853.4 1164.51L853.93 1163.94L854.45 1164.45L854.98 1164.91L855.5 1165.67L856.03 1164.6L856.55 1165.01L857.08 1165.63L857.6 1165.32L858.13 1165.66L858.65 1165.67L859.18 1165.31L859.7 1165.26L860.3 1165.34L860.82 1165.87L861.35 1165.41L861.88 1166.37L862.4 1164.46L862.93 1165.08L863.45 1165.81L864.38 1166.21L865.15 1165.67L866.08 1166.31L866.85 1166.13L867.78 1165.23L868.55 1165.91L869.08 1165.04L869.61 1166.25L870.14 1165.96L870.67 1166.02L870.72 1160.4L871.3 1160.44L871.35 1166.06L871.88 1165.52L872.4 1167.68L872.93 1165.57L873.46 1165.9L873.98 1165.38L874.51 1165.96L875.04 1167.05L875.57 1166.23L876.09 1166.54L876.62 1165.95L877.15 1167.21L877.67 1166.31L878.2 1166.25L878.2 1158.42L879.08 1158.42L879.08 1166.25L879.8 1166.25L880.32 1166.29L880.84 1171.34L881.36 1166.29L881.89 1165.72L882.41 1165.39L882.93 1166.75L883.45 1165.58L884.19 1166.92L884.8 1166.25L885.34 1165.9L885.89 1166.32L886.43 1165.91L886.98 1166.62L887.52 1166.89L888.07 1167.17L888.61 1167.44L889.16 1167.32L889.7 1167.89L889.7 1161.75L890.44 1161.97L890.44 1168.12L891.05 1168.28L891.62 1169.35L892.19 1168.66L892.76 1168.79L893.33 1168.89L893.81 1169.02L894.34 1169.68L894.86 1168.7L895.39 1168.51L895.92 1169L896.45 1168.93L897.26 1169.79L897.92 1170.25L898.58 1171.59L899.24 1170.53L899.9 1171.44L899.95 1169.54L900.66 1170.02L900.71 1171.92L901.25 1172.93L901.8 1173.1L902.35 1172.69L902.9 1173.18L903.45 1173.27L903.45 1168.41L904.3 1168.64L904.3 1173.5L905 1173.7L905 1168.85L905.85 1169.08L905.85 1173.94L906.55 1174.13L907.12 1173.74L907.69 1173.95L908.26 1174.63L908.82 1173.94L909.39 1174.95L909.96 1174.53L910.66 1174.57L911.22 1174.6L911.78 1174.54L912.34 1174.44L912.89 1174.72L913.45 1174.72L913.45 1171.03L914.3 1171.08L914.3 1174.76L915 1174.8L915 1162.61L915.85 1162.66L915.85 1174.85L916.55 1174.88L917.07 1175.55L917.59 1173.79L918.12 1175.06L918.64 1175.2L919.16 1174.43L919.68 1175.25L920.2 1175.15L920.73 1174.77L921.25 1175L921.84 1175L922.41 1174.24L922.99 1175.31L923.56 1174.83L924.13 1174.38L924.7 1175L925.3 1175L925.82 1174.77L926.35 1175.41L926.88 1174.14L927.4 1174.85L927.92 1174.71L928.45 1175.83L928.98 1175L929.77 1175L930.32 1175.54L930.87 1173.99L931.42 1175.15L931.96 1174.88L932.51 1175.17L933.06 1174.57L933.61 1173.89L934.15 1174.11L934.7 1175L934.7 1167.37L935.55 1167.37L935.55 1175L936.25 1175.94L937.1 1174.48L937.8 1175L938.43 1175.11L939.07 1175.49L939.7 1174.21L940.72 1175.16L941.55 1175L942.11 1175.06L942.66 1175.35L943.22 1174.63L943.78 1175L943.83 1166.95L944.49 1166.95L944.54 1175L945.05 1175.28L945.57 1175.04L946.08 1174.74L946.59 1174.17L947.1 1175L947.9 1175L948.43 1175.56L948.97 1175.43L949.5 1179.08L950.04 1174.75L950.57 1175.87L951.1 1175.36L951.64 1174.48L952.17 1174.97L952.71 1175.03L953.24 1174.84L953.77 1175L953.82 1166.43L954.43 1166.43L954.48 1175L955.04 1175.27L955.61 1174.84L956.18 1174.08L956.75 1174.63L957.31 1174.95L957.88 1175.43L958.45 1175L958.45 1164.43L959.2 1164.43L959.2 1175L959.82 1175.13L960.57 1175.66L961.19 1176.14L961.94 1175.12L962.56 1175.28L963.31 1175.15L963.93 1175L963.93 1170.19L964.68 1170.19L964.68 1175L965.3 1175L965.83 1173.58L966.36 1174.72L966.89 1174.94L967.42 1174.28L967.95 1175L967.95 1163.81L968.79 1163.81L968.79 1175L969.48 1175L969.48 1163.98L970.31 1163.98L970.31 1175L971 1175L971 1163.9L971.84 1163.9L971.84 1175L972.52 1175L973.36 1174.31L974.05 1175L974.57 1175.13L975.1 1175.2L975.62 1174.27L976.15 1174.99L976.67 1175.57L977.2 1174.88L977.73 1175L978.52 1175L979.15 1175.33L979.77 1174.85L980.39 1175.52L981.01 1175L981.06 1163.1L981.85 1163.1L981.9 1175L982.44 1175.26L982.99 1175.45L983.53 1175.42L984.08 1175L984.13 1168.6L984.7 1168.6L984.75 1175L985.28 1175.73L985.81 1175.11L986.34 1175.63L986.87 1175.7L987.39 1174.96L987.92 1175.32L988.45 1174.94L988.45 1164.58L989.2 1164.54L989.2 1174.9L989.82 1174.86L989.82 1164.56L990.57 1164.52L990.57 1174.82L991.19 1174.78L991.19 1164.44L991.94 1164.39L991.94 1174.73L992.56 1174.7L992.56 1164.51L993.31 1164.47L993.31 1174.65L993.93 1174.97L994.68 1175.23L995.3 1174.53L995.81 1174.69L996.32 1173.5L996.83 1174.49L997.34 1174.43L997.85 1175.55L998.36 1173.35L998.87 1175.19L999.38 1174.23L999.89 1174.81L1000.4 1174.11L1000.91 1174.25L1000.96 1170.6L1001.58 1170.57L1001.63 1174.22L1002.16 1174.25L1002.7 1174.76L1003.23 1174.11L1003.76 1173.91L1004.3 1173.99L1004.83 1173.81L1005.36 1174.06L1006.09 1174.03L1006.68 1174.76L1007.27 1173.34L1007.86 1173.04L1008.45 1173.92L1009.04 1173.9L1009.09 1171.51L1009.46 1171.49L1009.51 1173.88L1010.07 1174.59L1010.62 1174.53L1011.17 1173.42L1011.72 1173.86L1012.27 1172.31L1012.83 1173.73L1012.88 1169.29L1014 1169.21L1014.05 1173.66L1014.57 1172.78L1015.1 1172.47L1015.62 1172.86L1016.15 1173.66L1016.67 1174.15L1017.2 1174.9L1017.73 1173.44L1017.77 1165.59L1018.48 1165.54L1018.52 1173.39L1019.03 1172.1L1019.53 1173.43L1020.03 1173.9L1020.54 1172.4L1021.04 1172.97L1021.54 1172.98L1022.05 1173.22L1022.55 1173.07L1023.05 1173.43L1023.56 1173.7L1024.06 1173.12L1024.56 1173.47L1025.07 1174.13L1025.57 1172.53L1026.07 1172.56L1026.58 1173.16L1026.58 1164.23L1027.49 1164.32L1027.49 1173.25L1028.23 1173.32L1028.23 1164.6L1029.15 1164.69L1029.15 1173.41L1029.89 1173.49L1029.89 1165.29L1030.8 1165.2L1030.8 1173.4L1031.55 1173.3L1032.08 1173.87L1032.6 1172.88L1033.12 1173.63L1033.65 1172.15L1034.17 1173.56L1034.7 1174.46L1035.22 1172.83L1036.03 1172.73L1036.55 1172.99L1037.07 1172.68L1037.59 1173.04L1038.12 1172.27L1038.64 1172.82L1039.16 1172.24L1039.69 1172.09L1040.21 1176.93L1040.73 1172.16L1041.26 1171.17L1041.78 1173.2L1042.3 1172.07L1042.83 1171.88L1042.83 1161.47L1043.6 1161.41L1043.6 1171.82L1044.22 1171.78L1044.22 1161.28L1044.99 1161.22L1044.99 1171.72L1045.62 1171.68L1045.62 1167.64L1046.39 1167.58L1046.39 1171.62L1047.03 1171.57L1047.03 1160.21L1047.8 1160.16L1047.8 1171.52L1048.42 1171.47L1048.93 1170.96L1049.43 1172.34L1049.93 1170.93L1050.43 1171.42L1050.94 1171.18L1051.44 1170.94L1051.94 1171.58L1052.44 1171.81L1052.95 1172.02L1053.45 1171.11L1053.45 1160.6L1054.31 1160.54L1054.31 1171.05L1055.01 1171.89L1055.86 1170.82L1056.56 1171.09L1057.42 1171.69L1058.12 1171.71L1058.97 1171.24L1059.67 1171.09L1060.22 1171.42L1060.78 1171.71L1061.33 1170.97L1061.88 1171.35L1062.42 1170.99L1062.97 1170.86L1063.53 1171.58L1064.08 1171.18L1064.08 1166.19L1064.93 1166.21L1064.93 1171.2L1065.63 1171.21L1065.63 1166.41L1066.49 1166.42L1066.49 1171.23L1067.19 1171.24L1067.19 1166.4L1068.04 1166.49L1068.04 1171.33L1068.74 1171.42L1068.74 1163.59L1069.6 1163.71L1069.6 1171.54L1070.3 1171.64L1070.81 1171.89L1071.32 1171.33L1071.83 1172.85L1072.33 1171.93L1072.38 1167.64L1073.04 1167.74L1073.09 1172.03L1073.62 1171.51L1074.16 1172.44L1074.69 1172.01L1075.22 1172.33L1075.27 1168.37L1075.98 1168.48L1076.03 1172.44L1076.56 1172.66L1077.1 1172.16L1077.64 1173.38L1078.18 1172.21L1078.71 1172.22L1079.25 1173.08L1079.79 1173.06L1080.33 1173.04L1080.33 1160.94L1081.18 1161.04L1081.18 1173.13L1081.88 1173.21L1081.88 1161.05L1082.73 1161.14L1082.73 1173.31L1083.42 1173.38L1083.97 1173.33L1084.51 1173.92L1085.05 1173.59L1085.6 1175.15L1086.14 1172.93L1086.68 1173.35L1087.23 1173.87L1087.77 1174.63L1088.31 1173.8L1088.86 1173.21L1089.4 1174.05L1090.24 1174.15L1090.77 1173.71L1091.31 1174.17L1091.84 1174.82L1092.37 1174.03L1092.91 1174.2L1093.44 1174.77L1093.97 1174.54L1094.78 1174.62L1095.39 1174.84L1096.01 1174.22L1096.62 1174.8L1096.67 1167.53L1097.19 1167.59L1097.24 1174.85L1097.85 1181.66L1098.47 1175.94L1099.08 1175.29L1099.7 1174.99L1100.55 1174.47L1101.25 1175.74L1102.1 1175.7L1102.8 1175.39L1103.31 1175.66L1103.81 1174.99L1104.32 1175.24L1104.82 1176.26L1105.33 1175.47L1105.83 1175.64L1105.88 1170.51L1106.45 1170.54L1106.5 1175.68L1107.12 1175.1L1107.73 1176.58L1108.35 1175.77L1109.15 1175.82L1109.73 1175.97L1110.31 1175.83L1110.89 1175.02L1111.47 1175.94L1112.28 1175.98L1112.78 1176.29L1113.28 1176.06L1113.78 1175.6L1114.29 1176.33L1114.79 1176.72L1115.29 1176.26L1115.8 1177.11L1116.3 1176.66L1116.8 1176.64L1117.31 1177.01L1117.81 1175.89L1118.31 1175.97L1118.82 1176.54L1119.32 1176.54L1119.82 1177.08L1120.33 1176.25L1120.92 1176.25L1121.47 1180.11L1122.03 1176.37L1122.58 1176.1L1123.12 1176.05L1123.67 1176.01L1124.22 1176.75L1124.78 1176L1125.33 1176.14L1126.34 1175.17L1127.17 1176.25L1127.7 1176.47L1128.22 1176.09L1128.74 1176.37L1129.27 1176.47L1129.79 1175.25L1130.31 1177.59L1130.84 1176.36L1131.36 1186.29L1131.88 1175.3L1132.41 1176.63L1132.93 1176.52L1133.45 1176.1L1133.97 1176.25L1134.78 1176.25L1135.39 1177.01L1136 1176.13L1136.62 1176.25L1137.25 1176.25L1137.76 1177.05L1138.28 1176.47L1138.79 1176.23L1139.31 1177.59L1139.82 1176.42L1140.34 1176.24L1140.85 1176.25L1140.9 1165.51L1141.6 1165.51L1141.65 1176.25L1142.29 1176.45L1142.93 1176.41L1143.57 1176.25L1144.03 1176.25L1144.57 1176.19L1145.12 1176.5L1145.66 1176.54L1146.2 1176.65L1146.74 1176.76L1147.28 1176.46L1147.83 1176.25L1147.83 1169.05L1148.68 1169.05L1148.68 1176.25L1149.38 1176.25L1149.38 1169.03L1150.23 1169.03L1150.23 1176.25L1150.92 1176.25L1151.43 1175.3L1151.93 1177.14L1152.44 1175.34L1152.94 1176.51L1153.45 1177.2L1153.95 1177.12L1154.46 1175.8L1154.96 1175.58L1155.47 1175.5L1155.97 1176.68L1156.47 1176.25L1157.28 1176.25L1157.8 1176.29L1158.32 1176.43L1158.84 1176.51L1159.36 1176.58L1159.89 1176.35L1160.41 1175.4L1160.93 1177.08L1161.45 1174.77L1161.98 1176.96L1162.5 1175.94L1163.02 1176.17L1163.54 1175.99L1164.07 1176.07L1164.59 1176.26L1165.11 1176.25L1165.64 1176.25L1166.16 1175.67L1166.68 1176.74L1167.2 1175.95L1167.72 1176.25L1168.53 1176.25L1169.12 1176.19L1169.71 1175.88L1170.3 1176.51L1170.9 1176.76L1171.49 1176.25L1172.09 1176.25L1172.6 1176.11L1173.1 1177.06L1173.61 1175.72L1174.11 1175.8L1174.62 1176.36L1175.13 1175.6L1175.63 1174.91L1176.14 1175.35L1176.64 1176.48L1177.15 1176.63L1177.65 1176.6L1178.16 1176.49L1178.66 1175.59L1179.17 1176.64L1179.67 1176.9L1180.18 1175.89L1180.68 1176.79L1181.19 1176.07L1181.69 1176.38L1182.2 1176.25L1182.25 1165.06L1183.38 1165.06L1183.42 1176.25L1183.95 1177.08L1184.47 1175.8L1184.99 1176.22L1185.52 1176L1186.04 1176.52L1186.56 1176.51L1187.09 1176.28L1187.61 1177.05L1188.13 1176.43L1188.65 1176.05L1189.18 1174.69L1189.7 1176.25L1189.7 1169.62L1190.59 1169.62L1190.59 1176.25L1191.32 1176.25L1191.32 1169.62L1192.21 1169.62L1192.21 1176.25L1192.94 1176.25L1192.94 1169.54L1193.83 1169.54L1193.83 1176.25L1194.56 1176.4L1195.45 1175.59L1196.18 1175.97L1197.07 1176.22L1197.8 1176.25L1198.43 1176.13L1199.07 1175.92L1199.7 1180.4L1200.29 1176.25L1200.79 1177.98L1201.29 1176.73L1201.79 1176.85L1202.3 1176.36L1202.8 1176.08L1203.3 1177.48L1203.8 1176.07L1204.31 1176.49L1204.81 1176.21L1205.31 1176.6L1205.81 1176.25L1206.32 1176.6L1206.82 1175.58L1207.32 1176.22L1207.83 1176.25L1208.42 1176.25L1208.95 1175.71L1209.47 1175.91L1210 1177.03L1210.52 1176.5L1211.05 1176.86L1211.57 1175.04L1212.1 1176.25L1212.15 1172.82L1212.85 1172.82L1212.9 1176.25L1213.49 1184.28L1214.07 1176.5L1214.66 1176.25L1214.71 1171.38L1215.21 1171.38L1215.26 1176.25L1215.79 1175.66L1216.32 1180.06L1216.85 1176.2L1217.39 1175.54L1217.92 1177.48L1218.45 1176.17L1218.45 1162.36L1219.22 1162.29L1219.22 1176.1L1219.85 1176.05L1219.85 1162.69L1220.62 1162.62L1220.62 1175.98L1221.25 1175.92L1221.25 1162.63L1222.02 1162.57L1222.02 1175.86L1222.65 1175.8L1222.65 1162.32L1223.42 1162.25L1223.42 1175.74L1224.05 1175.68L1224.63 1174.91L1225.2 1175.13L1225.78 1175.72L1226.35 1174.69L1226.93 1174.23L1227.5 1174.73L1227.92 1174.59L1228.46 1175.39L1228.99 1174.33L1229.52 1173.73L1230.06 1173.94L1230.59 1173.92L1231.12 1173.55L1231.66 1172.3L1232.19 1173.28L1232.72 1172.89L1233.53 1172.49L1234.03 1172.71L1234.53 1171.24L1235.04 1172.32L1235.54 1171.21L1236.05 1170.29L1236.55 1171.72L1237.06 1170.44L1237.56 1170.68L1238.07 1170.13L1238.57 1170.57L1239.08 1169.71L1239.08 1161.18L1239.86 1160.79L1239.86 1169.32L1240.5 1169.08L1241.28 1167.9L1241.92 1168.29L1241.92 1155.01L1242.71 1154.64L1242.71 1167.92L1243.35 1167.66L1243.35 1154.51L1244.13 1154.2L1244.13 1167.35L1244.78 1167.21L1245.56 1165.59L1246.2 1167.52L1246.98 1166.25L1247.62 1165.42L1248.41 1165.3L1249.05 1165.38L1249.57 1164.82L1250.1 1164.84L1250.62 1165L1251.14 1164.75L1251.67 1165L1252.19 1163.52L1252.71 1164.21L1253.23 1164.05L1253.76 1164.63L1254.28 1175.54L1254.8 1163.58L1255.33 1162.77L1255.85 1163.05L1256.65 1162.78L1257.24 1162.81L1257.83 1162.15L1258.42 1162.25L1259.01 1162.48L1259.6 1162.5L1259.65 1155.16L1260.35 1155.16L1260.4 1162.5L1260.94 1162.99L1261.48 1162.31L1262.01 1163.56L1262.55 1163.47L1263.09 1162.59L1263.62 1162.63L1264.16 1164.5L1264.7 1173.43L1265.72 1163.9L1266.55 1163.8L1267.1 1163.42L1267.64 1164.66L1268.19 1164.23L1268.74 1163.62L1269.29 1164.79L1269.83 1164.22L1270.38 1164.84L1270.93 1164.19L1271.47 1164.59L1272.28 1164.71L1272.79 1163.87L1273.31 1165.01L1273.83 1163.99L1274.35 1164.96L1274.87 1163.5L1275.39 1164.94L1275.44 1163.38L1275.81 1163.41L1275.86 1164.97L1276.38 1174.93L1276.9 1165.71L1277.42 1164.48L1277.93 1165.98L1278.45 1165.15L1279.67 1165.23L1280.2 1164.52L1280.72 1164.6L1281.25 1164.57L1281.77 1164.73L1282.3 1164.69L1282.82 1163.07L1283.35 1164.29L1284.15 1164.06L1284.74 1163.75L1285.33 1163.16L1285.92 1164.08L1286.51 1163.19L1287.1 1163.21L1287.15 1160.27L1287.85 1160.14L1287.9 1163.08L1288.42 1162.87L1288.93 1163.66L1289.45 1163.43L1289.96 1162.67L1290.48 1162.02L1290.99 1162.58L1291.51 1163.2L1292.02 1162.69L1292.54 1168.19L1293.05 1162.91L1293.57 1162.84L1294.08 1162.93L1294.6 1162.67L1295.4 1162.63L1295.91 1162.52L1296.43 1162.19L1296.94 1161.23L1297.46 1161.51L1297.97 1162.89L1298.49 1162.23L1299 1162.39L1299.52 1161.63L1300.03 1162.11L1300.55 1162.86L1301.06 1162.46L1301.58 1162.4L1301.62 1150.26L1302.75 1150.23L1302.8 1162.37L1303.34 1162.32L1303.89 1162.14L1304.43 1162.96L1304.97 1161.35L1305.52 1162.6L1306.06 1161.66L1306.61 1161.83L1307.15 1162.26L1307.85 1162.14L1308.41 1162.02L1308.96 1161.83L1309.52 1161.76L1310.07 1161.52L1310.63 1161.23L1310.68 1158.45L1311.46 1158.16L1311.51 1160.94L1312.07 1161.15L1312.62 1161L1313.18 1160.19L1313.73 1159.61L1314.29 1160.36L1314.84 1159.88L1315.4 1164.92L1315.95 1159.5L1315.95 1150.92L1316.78 1150.63L1316.78 1159.21L1317.46 1158.96L1317.46 1151.62L1318.3 1151.32L1318.3 1158.66L1318.98 1158.42L1318.98 1151.23L1319.81 1150.94L1319.81 1158.12L1320.49 1158.57L1321.33 1157.57L1322.01 1157.1L1322.84 1157.68L1323.52 1156.78L1323.52 1152.8L1324.35 1152.5L1324.35 1156.48L1325.04 1156.22L1325.04 1152.24L1325.87 1151.62L1325.87 1155.6L1326.55 1155.09L1327.05 1155.46L1327.56 1154.98L1328.06 1153.17L1328.56 1153.49L1329.06 1153.6L1329.57 1152.58L1330.07 1152.9L1330.57 1152.26L1331.07 1152.02L1331.58 1151.32L1332.17 1150.87L1332.71 1150.63L1333.25 1150.35L1333.79 1148.84L1334.33 1148.74L1334.87 1148.28L1335.41 1149.27L1335.95 1147.54L1336.86 1146.51L1337.61 1146.94L1338.52 1145.33L1339.27 1144.48L1339.27 1132.8L1340.18 1131.91L1340.18 1143.57L1340.92 1142.82L1341.55 1143.46L1342.17 1140.84L1342.8 1140.93L1343.42 1140.1L1344.18 1139.26L1344.75 1138.14L1345.32 1137.66L1345.89 1137.13L1346.45 1135.43L1347.02 1136.49L1347.59 1135.5L1347.64 1127.38L1348.16 1126.72L1348.21 1134.84L1348.76 1134.3L1349.31 1133.81L1349.86 1134.36L1350.41 1132.6L1350.96 1132.37L1351.51 1131.04L1352.06 1130.93L1352.6 1130.15L1352.65 1125.36L1353.42 1124.43L1353.47 1129.22L1354.01 1128.16L1354.54 1127.63L1355.07 1127.77L1355.6 1127.36L1356.14 1126.63L1356.67 1125.47L1357.2 1125.29L1357.97 1124.67L1358.6 1124.39L1359.37 1122.92L1360 1132.89L1360.77 1121.43L1361.4 1122.49L1362.17 1120.05L1362.8 1119.7L1363.35 1118.04L1363.9 1118.2L1364.45 1116.96L1365 1116.79L1365.55 1116.37L1366.1 1115.1L1366.65 1114.52L1367.2 1114.71L1368.22 1113.34L1369.05 1111.68L1369.66 1110.41L1370.26 1109.88L1370.87 1109.31L1371.47 1108.39L1372.28 1107.11L1372.81 1105.35L1373.35 1105.37L1373.89 1105.58L1374.43 1103.64L1374.96 1102.95L1375.5 1101.97L1376.04 1100.45L1376.58 1100.64L1377.35 1098.07L1377.97 1098.33L1378.74 1097.05L1379.38 1096.69L1379.38 1089.74L1380.14 1088.91L1380.14 1095.85L1380.78 1095.16L1380.78 1088.23L1381.55 1087.39L1381.55 1094.32L1382.17 1093.63L1382.7 1093.07L1383.22 1091.2L1383.75 1091.45L1384.27 1090.69L1384.8 1090.13L1385.32 1089.37L1385.85 1087.48L1386.65 1085.8L1387.24 1085.66L1387.83 1083.4L1388.42 1082.38L1389.01 1080.57L1389.6 1079.59L1390.4 1078.03L1390.96 1077.86L1391.51 1075.94L1392.07 1075.02L1392.12 1067.8L1392.71 1066.57L1392.76 1073.78L1393.28 1073.84L1393.79 1071.14L1394.31 1070.94L1394.82 1070.11L1395.34 1070.19L1395.85 1068.22L1396.65 1066.82L1397.23 1076.74L1397.81 1065.1L1398.39 1064.39L1398.97 1062.88L1399.02 1056.3L1399.73 1054.96L1399.78 1061.52L1400.31 1061.13L1400.85 1059.37L1401.38 1057.37L1401.92 1057.18L1402.46 1057.15L1402.99 1056.8L1403.53 1054.48L1404.06 1054.08L1404.6 1054.38L1405.4 1053.42L1405.9 1051.01L1406.41 1052.58L1406.91 1052.24L1407.41 1049.42L1407.92 1050.89L1408.42 1049.75L1408.92 1049.84L1409.43 1048.02L1409.93 1046.53L1410.43 1045.54L1410.93 1044.12L1411.44 1045.96L1411.94 1039.19L1412.44 1036.16L1412.95 1035.01L1413.45 1032.89L1413.45 1026.78L1414.47 1023.57L1414.47 1029.65L1415.3 1027L1415.83 1025.8L1416.35 1023.62L1416.88 1021.68L1417.4 1021.28L1417.92 1019.79L1418.45 1017.15L1418.45 1012.5L1419.34 1009.85L1419.34 1014.48L1420.07 1012.29L1420.07 1007.81L1420.96 1005.16L1420.96 1009.62L1421.69 1007.73L1422.58 1004.64L1423.31 1003.26L1424.2 1001.21L1424.93 999.91L1424.93 995.12L1425.82 993.27L1425.82 998.04L1426.55 996.51L1427.16 994.87L1427.76 994.75L1428.37 992.69L1428.97 991.65L1429.02 988.72L1429.73 987.84L1429.78 990.77L1430.31 989.94L1430.85 990.05L1431.39 989.59L1431.93 987.85L1432.46 988.28L1433 989.26L1433.54 986.54L1434.08 986.02L1434.08 983.63L1434.93 982.69L1434.93 985.08L1435.63 984.37L1435.63 981.99L1436.49 981.14L1436.49 983.51L1437.19 982.81L1437.19 978.62L1438.04 977.77L1438.04 981.96L1438.74 981.26L1438.74 977.11L1439.6 976.26L1439.6 980.4L1440.3 979.7L1440.74 979.29L1441.17 978.77L1441.61 978.29L1442.04 976.98L1442.48 976.74L1442.91 975.17L1443.35 974.82L1443.4 969.92L1444.1 968.43L1444.15 973.33L1444.56 972.54L1444.97 971.65L1445.38 971.21L1445.78 970.27L1446.19 969.5L1446.6 968.94L1447.01 967.68L1447.42 966.84L1447.83 965.98L1447.83 959.67L1448.68 957.84L1448.68 964.12L1449.38 962.61L1449.38 958.77L1450.23 957.2L1450.23 961.02L1450.92 960.33L1451.4 959.88L1451.88 959.56L1452.35 959.32L1452.83 958.42L1452.88 957.17L1453.19 956.75L1453.24 958.01L1453.65 957.93L1454.05 957.18L1454.45 957.23L1454.86 957.25L1455.26 957.3L1455.66 957.29L1456.07 957.04L1456.47 957.55L1456.87 956.86L1457.28 956.92L1457.68 957.4L1458.09 957.72L1458.49 957.92L1458.89 958.43L1459.3 958.94L1459.7 959.1L1460.92 961.73L1461.34 964.12L1461.75 965.92L1462.17 966.32L1462.58 964.91L1462.99 964.11L1463.41 963.06L1463.82 962.92L1464.23 962.9L1464.65 963.51L1465.06 963.61L1465.47 964.21L1465.89 964.6L1466.3 964.87L1466.71 965.72L1467.13 965.49L1467.54 966.48L1467.96 967.41L1468.37 966.94L1468.78 967.67L1469.2 968.92L1469.61 970.96L1470.02 972.18L1470.44 974.43L1470.85 975.9L1470.9 973.17L1471.6 977.59L1471.65 980.33L1472.07 983.01L1472.49 985.92L1472.91 989.24L1473.34 990.52L1473.76 989.62L1474.18 988.83L1474.6 988.53L1474.65 982.35L1475.35 981.25L1475.4 987.42L1475.81 986.25L1476.23 986.45L1476.64 982.4L1477.06 977.47L1477.47 974.2L1477.88 969.29L1478.3 966.44L1478.71 964.34L1478.76 961.09L1479.36 957.5L1479.41 960.73L1479.84 958.09L1480.26 956.08L1480.68 953.91L1481.11 951.96L1481.53 948.74L1481.96 945.16L1482.38 941.58L1482.8 938.07L1483.23 936.18L1483.65 939.09L1484.08 941.6L1484.12 938.61L1484.62 942.29L1484.67 945.3L1485.09 948.36L1485.51 950.15L1485.93 953.25L1486.35 954.96L1486.77 955.81L1487.19 956.42L1487.61 957.07L1488.03 957.78L1488.45 955.32L1488.45 948.84L1489.3 943.58L1489.3 950.01L1490 950.14L1490 943.74L1490.85 944.78L1490.85 951.2L1491.55 952.07L1491.96 952.86L1492.36 955.6L1492.77 958.28L1493.17 960.47L1494.01 965.68L1494.42 968.17L1494.83 970.84L1495.24 971.77L1495.65 970.94L1496.06 970L1496.47 969.89L1496.89 968.64L1497.3 968.27L1497.71 968.16L1498.12 967.28L1498.53 966.66L1498.94 963.31L1499.35 957.15L1499.76 950.48L1500.18 943.61L1500.59 937.69L1500.64 930.95L1501.24 938.36L1501.29 945.19L1501.73 950.25L1502.18 954.38L1502.62 956.38L1503.07 950.57L1503.51 943.7L1503.96 936.68L1504.37 930.42L1504.78 925.25L1505.19 920.19L1505.6 915.33L1506 914.02L1506.41 913.19L1506.82 912.45L1507.23 911.84L1507.63 911.74L1508.04 912.79L1508.45 913.78L1509.22 915.93L1509.85 917.82L1510.62 919.74L1511.25 920.63L1511.25 918.34L1512.02 919.5L1512.02 921.79L1512.65 922.74L1512.65 920.44L1513.42 921.6L1513.42 923.9L1514.05 925.17L1514.46 926.19L1514.87 927.62L1515.28 928.75L1515.69 929.06L1516.1 930.78L1516.51 931.71L1516.92 933.11L1517.33 939.98L1517.74 946.32L1518.15 952.88L1518.56 959.67L1518.97 964.29L1519.02 958.91L1519.73 965.2L1519.78 970.63L1520.22 973.69L1520.67 978.19L1521.12 981.16L1521.56 984.98L1522.01 986.07L1522.46 979.76L1522.9 973.5L1523.35 967.2L1523.4 962.98L1524.1 951.86L1524.15 956L1524.62 955.71L1525.08 963.37L1525.55 970.02L1526.01 977.23L1526.47 984.7L1527.28 997.11L1527.71 999L1528.15 995.13L1528.59 990.76L1529.03 986.86L1529.46 983.02L1529.9 979.01L1530.34 974.87L1530.78 972.37L1531.21 973.31L1531.26 967.94L1531.86 968.86L1531.91 974.23L1532.36 975.23L1532.81 1001.89L1533.26 1027.7L1533.7 1028.49L1534.15 1029.1L1534.6 1029.75L1535.4 1030.95L1535.8 1031.02L1536.2 1030.62L1536.61 1031.29L1537.01 1030.49L1537.41 1030.38L1537.81 1030.13L1538.21 1030.02L1538.62 1030L1539.02 1030.01L1539.42 1029.39L1539.82 1029.56L1540.22 1028.61L1541.03 1025.79L1541.44 1025.5L1541.85 1025.3L1542.27 1026.05L1542.68 1026.62L1543.09 1026.51L1543.51 1027.29L1543.92 1027.7L1544.33 1027.82L1544.75 1028.33L1545.16 1029L1545.57 1029.17L1545.99 1029.37L1546.4 1029.79L1546.81 1030.32L1547.23 1030.89L1547.64 1031.13L1548.06 1031.48L1548.47 1032.05L1548.88 1031.57L1549.3 1031.76L1549.71 1031.71L1550.12 1032.67L1550.54 1032.04L1550.95 1032.78L1551.55 1033.02L1551.96 1033.38L1552.37 1033L1552.78 1033.35L1553.2 1033.62L1553.61 1034.03L1554.02 1033.63L1554.43 1034.26L1554.84 1034.52L1555.25 1034.54L1555.67 1034.71L1556.08 1035.15L1556.49 1035.05L1556.9 1035.16L1557.31 1035.24L1557.72 1035.49L1558.53 1035.81L1558.95 1035.91L1559.37 1036.31L1559.79 1036.34L1560.21 1036.77L1560.63 1036.46L1561.05 1036.84L1561.47 1036.87L1562.28 1036.77L1562.71 1036.82L1563.15 1036.94L1563.59 1036.7L1564.03 1036.77L1564.46 1036.98L1564.9 1036.64L1565.34 1036.1L1565.78 1035.95L1566.21 1036.25L1566.91 1035.48L1567.31 1034.92L1567.72 1034.62L1568.12 1034.04L1568.52 1033.61L1569.08 1032.97L1569.5 1032.79L1569.91 1031.72L1570.33 1031.35L1570.74 1030.43L1571.16 1029.39L1571.58 1029.1L1571.99 1028.12L1572.41 1027.48L1572.83 1026.59L1572.83 1018.8L1573.68 1017.22L1573.68 1024.99L1574.38 1023.67L1574.38 1016.02L1575.23 1014.3L1575.23 1021.93L1575.92 1020.19L1576.38 1018.98L1576.83 1017.94L1577.28 1016.7L1577.74 1015.66L1577.79 1010.25L1578.46 1008.33L1578.51 1013.72L1578.96 1012.52L1579.41 1011.41L1579.86 1010.41L1580.31 1009.27L1580.75 1007.72L1581.2 1006.4L1581.65 1005.53L1582.1 1004.5L1582.15 998.82L1582.85 996.74L1582.9 1002.4L1583.33 1001.04L1583.75 999.94L1584.17 998.96L1584.6 997.95L1585.4 995.45L1585.81 993.55L1586.22 992.34L1586.62 991.09L1587.03 989.48L1587.44 987.69L1587.85 986.46L1588.26 985.06L1588.67 983.78L1589.08 982.11L1589.12 976.59L1590.25 971.86L1590.3 977.33L1590.71 975.27L1591.12 973.51L1591.52 971.7L1591.93 969.37L1592.34 967.46L1592.75 965.7L1593.16 963.97L1593.57 961.72L1593.97 959.65L1594.02 953.91L1594.73 949.16L1594.78 954.85L1595.27 951.95L1595.77 949.15L1596.27 945.74L1596.77 942.89L1596.77 937.79L1597.84 930.28L1597.84 935.32L1598.71 927.08L1599.13 923.18L1599.55 919.21L1599.97 915.25L1600.39 909.33L1600.81 903.41L1601.23 897.43L1601.65 891.61L1602.07 880.12L1602.49 860.45L1602.91 819.07L1603.33 782.39L1604.06 739L1604.66 726.16L1605.08 723.98L1605.49 721.84L1605.91 720.82L1606.33 720.2L1606.75 719.73L1607.16 719.18L1607.58 719.16L1608 721.25L1608.05 719.65L1608.75 724.04L1608.8 725.65L1609.22 731.03L1609.63 736.6L1610.05 742L1610.46 747.73L1610.88 753.48L1611.3 760.75L1611.35 758.46L1611.64 775.9L1611.69 778.26L1612.12 796.78L1612.55 814.6L1612.98 830.52L1613.41 843.14L1613.46 841.42L1614.18 858.31L1614.23 860.07L1614.65 867.07L1615.06 873.69L1615.48 878.45L1615.89 883.44L1616.31 888.17L1616.36 885.29L1617.15 896.3L1617.2 899.24L1617.67 905.93L1618.15 912.73L1618.62 919.45L1618.67 915.75L1618.94 918.48L1618.99 922.2L1619.48 924.07L1619.98 926.21L1620.47 928.13L1620.47 924.93L1621.25 928.03L1621.25 931.24L1621.88 934.24L1622.29 936.29L1622.7 938.05L1623.1 940.2L1623.51 943.5L1623.92 946.94L1624.33 950.6L1624.73 954.04L1625.14 957.28L1625.55 960L1625.95 962.61L1626.36 965.3L1626.77 967.74L1627.17 969.57L1627.58 970.99L1627.99 972.28L1628.4 973.63L1628.8 974.89L1629.4 976.81L1629.8 978.2L1630.21 979.27L1630.61 979.86L1631.01 980.58L1631.42 981.26L1631.82 981.99L1632.22 982.64L1632.63 983.13L1633.03 983.39L1633.43 983.6L1633.84 983.79L1633.89 977.53L1634.28 977.79L1634.33 984.05L1634.74 984.27L1635.16 984.07L1635.57 983.08L1635.98 982.23L1636.39 981.31L1636.81 980.27L1637.22 979.42L1637.63 978.56L1638.04 977.73L1638.45 976.77L1638.87 975.94L1639.28 975.2L1639.69 974.29L1640.1 973.74L1640.52 972.72L1641.31 971.11L1641.8 969.91L1642.29 968.87L1642.78 967.67L1643.6 965.77L1644 964.65L1644.4 963.89L1644.8 962.89L1645.2 961.66L1645.6 959.98L1646 958.43L1646.4 956.89L1646.8 955.3L1647.2 953.62L1647.6 952.05L1648 950.44L1648.4 948.91L1648.8 947.18L1649.2 944.55L1649.6 942.11L1649.65 938.42L1650.02 935.47L1650.07 939.14L1650.52 936.32L1650.96 933.36L1651.41 930.61L1651.86 927.72L1652.31 924.26L1653.4 915.54L1654.29 908.36L1654.74 905.37L1655.18 902.79L1655.63 899.95L1656.07 897.27L1656.52 895.3L1657.56 889.65L1658.42 886.39L1658.82 884.78L1659.23 883.19L1659.64 881.5L1660.04 879.87L1660.45 878.4L1660.86 876.88L1661.27 875.44L1661.67 873.95L1662.08 872.65L1662.49 871.15L1662.89 869.68L1663.3 867.76L1663.71 865.11L1664.11 862.67L1664.52 860.17L1664.93 857.48L1665.34 851.76L1665.39 850.22L1665.86 841.31L1665.91 842.82L1666.33 836.68L1666.75 831.49L1667.18 826.29L1667.6 821.42L1668.02 816.2L1668.44 811.3L1668.87 806.31L1669.29 801.3L1669.71 795.72L1670.13 790.3L1670.55 784.4L1670.6 782.86L1671.11 774.75L1671.16 776.27L1671.57 771.19L1671.98 766.13L1672.39 761.28L1672.8 758.66L1673.21 756.87L1673.62 754.92L1674.03 753.13L1674.44 751.22L1674.86 749.44L1675.27 744.82L1675.68 739.31L1676.09 733.45L1676.5 723.44L1676.55 721.51L1677.25 699.91L1677.3 701.76L1677.75 717.53L1678.2 730.8L1679.07 737.9L1679.48 740.36L1679.9 738.01L1680.32 735.91L1680.73 733.9L1681.15 731.79L1681.56 727.17L1681.98 721.87L1682.86 710.63L1683.43 698L1684 681.54L1684.05 680.48L1684.75 677.83L1684.8 678.89L1685.37 691.16L1686.13 703.94L1686.53 704.71L1686.94 702.73L1687.35 700.74L1687.76 697.95L1688.16 693.14L1688.57 681.65L1688.98 669.77L1689.38 658.12L1689.79 647.3L1690.2 636.86L1690.6 626.25L1691.01 621.9L1691.42 617.56L1691.82 613.24L1692.23 616.42L1692.64 621.04L1693.04 625.61L1693.45 610.19L1693.5 609.84L1694.38 583.34L1694.43 583.67L1694.84 582.22L1695.26 580.91L1695.68 578.53L1696.1 571.32L1696.52 563.99L1696.94 557.3L1697.36 554.45L1697.78 551.6L1698.19 549.37L1698.96 549.1L1699.37 548.95L1699.79 548.82L1700.2 549.45L1700.61 551.02L1701.02 553L1701.44 553.73L1701.85 553.51L1702.26 553.52L1702.67 553.34L1703.09 553.14L1703.5 550.64L1703.91 548.11L1704.32 545.6L1704.73 548.66L1705.15 553.14L1705.56 557.66L1706.24 557.06L1706.7 556.08L1707.16 555.56L1707.62 552.89L1708.08 544.87L1708.54 537.45L1709 537.08L1709.05 535.91L1709.75 535.24L1709.8 536.42L1710.38 536.86L1710.96 537.69L1711.62 538.68L1712.05 539.31L1712.47 540L1712.9 541.37L1713.33 542.98L1713.76 544.4L1713.76 543.51L1714.59 546.42L1714.59 547.32L1715.27 549.56L1715.69 550.78L1716.12 552.17L1716.54 553.31L1716.96 554.3L1717.38 553.91L1717.8 553.96L1718.22 553.72L1718.65 553.54L1719.07 553.44L1719.49 552.92L1719.91 552.06L1720.66 550.95L1721.28 549.35L1721.73 548.49L1722.18 547.35L1722.63 546.26L1723.08 545.29L1723.53 543.99L1723.98 543.01L1724.43 541.87L1724.48 540.72L1725.19 539.92L1725.24 541.06L1725.66 540.66L1726.08 540.33L1726.5 539.83L1726.92 539.42L1727.34 539.93L1727.76 540.56L1728.18 541.04L1728.6 541.63L1729.02 542L1729.44 542.55L1729.86 543.28L1730.28 544.07L1730.7 544.74L1731.12 545.6L1731.54 546.3L1731.96 547.24L1732.38 549.92L1732.8 552.85L1733.22 556.11L1733.72 560.6L1734.14 561.97L1734.55 558.59L1734.97 555.15L1735.38 551.82L1735.8 548.71L1736.21 546.31L1736.63 543.95L1737.04 543.27L1737.46 545.56L1737.87 547.79L1738.29 549.98L1738.7 552.13L1739.12 554.05L1739.53 555.64L1739.95 557.35L1740.88 562.19L1741.29 565.28L1741.69 568.35L1742.09 574.21L1742.5 583.12L1742.9 594.14L1743.3 609.05L1743.71 615.2L1744.11 613.28L1744.51 611.04L1744.92 608.77L1745.32 605.44L1745.72 602.21L1746.13 602.12L1746.53 609.18L1746.93 616.18L1747.33 612.55L1747.74 606.42L1748.14 600.44L1748.54 594.63L1748.95 590.49L1749.35 586.48L1749.75 582.54L1750.16 590.71L1750.56 598.71L1750.96 606.77L1751.37 620.27L1751.77 634.83L1752.92 643.28L1753.87 687.95L1754.31 691.9L1754.75 685.98L1755.19 675.55L1755.64 659.68L1756.08 643.59L1756.52 641.84L1756.96 648.9L1757.01 647.77L1757.41 655.73L1757.46 656.87L1757.88 681.54L1758.3 690.07L1758.73 679.75L1759.15 669.68L1759.57 666.95L1759.62 665.4L1759.88 672.17L1759.93 673.74L1760.35 681.56L1760.77 689.72L1761.19 698.68L1761.61 710.08L1762.03 728.98L1762.45 747.79L1762.87 765L1763.29 781.68L1763.34 778.58L1763.89 802.77L1763.94 806L1764.36 819.5L1764.79 833.11L1765.21 846.42L1765.64 859.4L1766.06 872.19L1766.49 885.63L1766.91 899.7L1767.33 913.38L1767.76 925.2L1768.18 935.86L1768.61 946.37L1769.03 957.13L1769.46 967.79L1769.88 977.89L1770.31 987.38L1770.73 994.51L1771.43 998.54L1771.9 1001.25L1772.36 1002.44L1772.83 1003.69L1773.29 1005.01L1773.34 1002.89L1773.79 1004.38L1773.84 1006.5L1774.31 1007.74L1774.77 1009L1775.24 1010.19L1775.71 1011.36L1775.76 1008.9L1776.22 1009.46L1776.27 1011.92L1776.73 1012.42L1777.2 1012.87L1777.66 1013.31L1777.71 1009.44L1778 1009.82L1778.05 1013.7L1778.45 1013.55L1778.86 1013.02L1779.27 1012.77L1779.68 1012.25L1780.09 1011.59L1781.06 1008.06L1781.47 1006.54L1781.87 1005.2L1782.28 1003.2L1782.69 1001.49L1783.09 999.61L1783.5 997.65L1783.91 995.87L1784.31 994.24L1784.72 992.04L1785.13 989.86L1785.53 987.54L1785.94 985.05L1786.35 983.07L1786.75 980.77L1787.16 978.21L1787.57 975.47L1787.97 972.69L1788.38 969.93L1788.79 967.31L1789.19 963.95L1789.6 960.56L1790.01 957.28L1790.41 954.1L1790.82 950.8L1791.23 947.57L1791.63 944.25L1792.04 941.1L1792.45 937.83L1792.85 932.76L1793.26 927.69L1793.67 922.31L1794.07 917.99L1794.48 913.87L1794.89 909.94L1795.29 906.57L1795.7 903.15L1795.75 900.85L1796.34 895.92L1796.39 898.2L1796.8 896.44L1797.22 894.9L1797.63 893.9L1798.05 894.42L1798.46 894.71L1798.88 895.12L1799.29 895.82L1799.71 896.42L1800.12 896.57L1800.54 894.95L1801.2 892.56L1801.65 890.95L1802.1 888.82L1802.55 886.13L1803 883.29L1803.45 880.52L1803.9 877.42L1804.35 874.8L1805.5 860.68L1806.45 844.23L1806.86 832.66L1807.27 820.84L1807.68 809.21L1808.08 797.8L1808.49 787.7L1808.9 777.47L1809.31 767.33L1809.72 757.04L1810.12 746.61L1810.53 735.99L1810.53 734.36L1811.37 712.25L1811.37 713.82L1812.06 697.43L1812.49 690.75L1812.92 683.87L1813.35 680.74L1813.78 680.03L1814.21 679.15L1814.64 670.14L1815.07 654.56L1815.12 653.9L1815.72 628.69L1815.77 629.32L1816.18 621.42L1816.59 613.28L1817.01 605.77L1817.42 599.37L1817.84 592.9L1818.25 586.81L1818.66 581.32L1819.08 575.85L1819.49 570.46L1819.91 565.04L1820.32 560.74L1820.74 557.1L1821.15 553.39L1821.56 551.24L1821.98 549.63L1822.39 547.76L1822.81 546.23L1823.22 543.9L1823.6 540.48L1824 536.78L1824.4 533.16L1824.8 529.76L1825.2 527.87L1825.6 526.01L1826 524.17L1826.4 522.31L1826.8 520.33L1827.2 515.48L1827.6 509.63L1828 503.78L1828.4 496.38L1828.8 486.53L1829.2 476.31L1829.6 466.24L1830 456.32L1830.4 446.36L1830.8 435.8L1831.2 421.42L1831.6 407.21L1832 392.93L1832.4 378.53L1832.8 367.45L1833.2 357.64L1833.6 347.37L1834 337.56L1834.4 327.53L1834.8 317.66L1835.2 309.72L1835.6 303.89L1836 298.34L1836.4 292.48L1836.8 286.97L1837.2 281.23L1837.6 275.37L1838 269.73L1838.4 263.97L1838.8 255.38L1839.2 246.1L1839.6 236.6L1840 227.19L1840.4 217.38L1840.8 206.41L1841.2 195.38L1841.6 189.25L1842 184.93L1842.4 180.61L1842.8 176.23L1843.2 171.88L1843.6 168.46L1844 165.03L1844.4 161.81L1844.8 158.27L1845.2 155L1845.6 151.64L1846 148.06L1846.4 144.22L1846.8 140.39L1847.2 137.05L1847.6 135.56L1848 133.81L1848.4 132L1848.8 130.23L1849.2 128.54L1849.6 126.74L1850 125.62L1850.4 125.48L1850.8 125.03L1851.2 124.84L1851.6 124.75L1852 124.14L1852.4 124.07L1852.8 123.9L1853.2 123.55L1853.6 123.23L1854 122.96L1854.4 122.01L1854.8 120.62L1855.2 119.83L1855.6 119.43L1856 119.12L1856.4 118.76L1856.8 118.44L1857.2 117.94L1857.6 117.69L1858 117.34L1858.4 117L1858.8 116.63L1859.2 116.21L1859.6 116.11L1860 115.81L1860.4 115.61L1860.8 115.16L1861.2 114.92L1861.6 114.52L1862 114.12L1862.4 113.87L1862.8 113.55L1863.2 113.53L1863.6 113.36L1864 113.14L1864.4 113.18L1864.8 113.04L1865.2 112.85L1865.6 112.73L1866 112.73L1866.4 112.58L1866.8 112.48L1867.2 112.51L1867.6 112.64L1868 112.6L1868.4 112.46L1868.8 112.67L1869.2 112.58L1869.6 112.69L1870 112.65L1870.4 112.52L1870.8 112.56L1871.2 112.49L1871.6 112.47L1872 112.51L1872.4 112.57L1872.8 112.64L1873.2 112.45L1873.6 112.58L1874 112.52L1874.4 112.5L1874.8 112.6L1875.2 112.48L1875.6 112.61"/>
</g>
<rect class="spines" x="280.5" y="112.5" width="1595" height="1066" fill="none" stroke="#000000" stroke-width="3" stroke-linejoin="miter"/>
<g class="labels" fill="#000000" font-family="'DejaVu Sans', sans-serif" font-size="41.67">
<text class="xtick" transform="translate(269.21 1328.6) rotate(-30)">03-10 18</text>
<text class="xtick" transform="translate(409.32 1328.47) rotate(-30)">03-10 19</text>
<text class="xtick" transform="translate(549.32 1328.47) rotate(-30)">03-10 20</text>
<text class="xtick" transform="translate(689.32 1328.47) rotate(-30)">03-10 21</text>
<text class="xtick" transform="translate(829.37 1328.41) rotate(-30)">03-10 22</text>
<text class="xtick" transform="translate(969.26 1328.53) rotate(-30)">03-10 23</text>
<text class="xtick" transform="translate(1109.26 1328.53) rotate(-30)">03-11 00</text>
<text class="xtick" transform="translate(1249.26 1328.53) rotate(-30)">03-11 01</text>
<text class="xtick" transform="translate(1389.32 1328.47) rotate(-30)">03-11 02</text>
<text class="xtick" transform="translate(1529.21 1328.6) rotate(-30)">03-11 03</text>
<text class="xtick" transform="translate(1669.26 1328.53) rotate(-30)">03-11 04</text>
<text class="ytick"><tspan x="179.34" y="624.15">10</tspan><tspan x="231.74" y="608.05" font-size="29.17">8</tspan></text>
<text class="ytick"><tspan x="109.15" y="1174.65">4</tspan><tspan x="142.95">×</tspan><tspan x="185.9">10</tspan><tspan x="239.05" y="1158.55" font-size="29.17">7</tspan></text>
<text class="ytick"><tspan x="109.15" y="931.29">6</tspan><tspan x="142.95">×</tspan><tspan x="185.9">10</tspan><tspan x="239.05" y="915.19" font-size="29.17">7</tspan></text>
<text class="ytick"><tspan x="109.15" y="208.43">2</tspan><tspan x="142.95">×</tspan><tspan x="185.9">10</tspan><tspan x="239.05" y="192.33" font-size="29.17">8</tspan></text>
<text class="xlabel" x="1027.12" y="1386.76">Time</text>
<text class="ylabel" transform="translate(81.06 690.96) rotate(-90)">ADU</text>
<text class="title" font-size="50" x="376.88" y="86.7" textLength="1401.25" lengthAdjust="spacing">Peak field sums for HR0002_20260310_173202_753189</text>
</g>
<g class="legend">
<rect x="917.16" y="133.33" width="320.68" height="137.87" rx="8.33" ry="8.33" fill="#ffffff" stroke="#cccccc" stroke-width="4.17" opacity="0.8"/>
<path d="M934.23 168.42 H1017.56" fill="none" stroke="#ff0000" stroke-width="2.08" stroke-linecap="square"/>
<path d="M934.23 231.25 H1017.56" fill="none" stroke="#000000" stroke-width="2.08" stroke-linecap="square"/>
<g fill="#000000" font-family="'DejaVu Sans', sans-serif" font-size="41.67">
<text class="legend-label" x="1049.9" y="183">Peak</text>
<text class="legend-label" x="1049.9" y="244.53">Average</text>
</g></g>
</svg>
</body>
</html>
